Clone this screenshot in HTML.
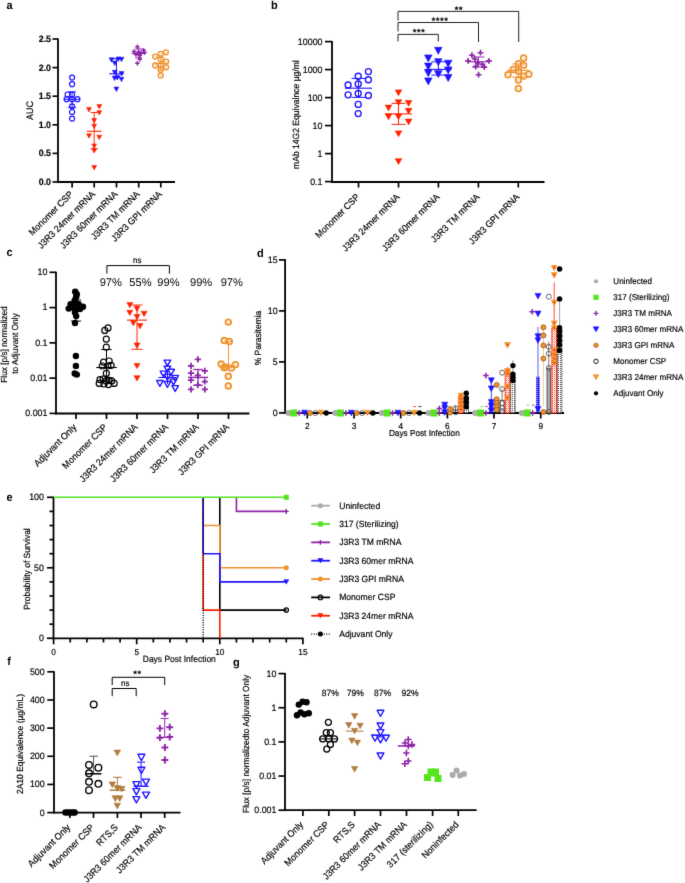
<!DOCTYPE html>
<html><head><meta charset="utf-8"><style>
html,body{margin:0;padding:0;background:#fff;}
svg{display:block;font-family:"Liberation Sans", sans-serif;will-change:transform;text-rendering:geometricPrecision;}
</style></head><body>
<svg width="685" height="883" viewBox="0 0 685 883">
<defs>
<filter id="soft" x="0" y="0" width="685" height="883" filterUnits="userSpaceOnUse" color-interpolation-filters="sRGB"><feConvolveMatrix order="3" kernelMatrix="0.00810 0.07380 0.00810 0.07380 0.67240 0.07380 0.00810 0.07380 0.00810" edgeMode="duplicate" preserveAlpha="false"/></filter>
<pattern id="redstripe" width="2" height="2" patternUnits="userSpaceOnUse"><rect width="2" height="2" fill="#fff"/><rect x="0" y="0" width="1" height="1" fill="#FF5A4A"/><rect x="1" y="1" width="1" height="1" fill="#FFB8B0"/></pattern>
<pattern id="blkdot" width="2" height="2" patternUnits="userSpaceOnUse"><rect width="2" height="2" fill="#fff"/><rect x="0" y="0" width="1" height="1" fill="#555"/></pattern>
<pattern id="bluedot" width="2" height="2" patternUnits="userSpaceOnUse"><rect width="2" height="2" fill="#1E14FF"/><rect x="1" y="1" width="1" height="1" fill="#aab"/></pattern>
</defs>
<g filter="url(#soft)">
<rect width="685" height="883" fill="#fff"/>
<text font-size="11.55" text-anchor="start" font-weight="bold" fill="#000" transform="translate(6.5 9.2) scale(0.95 1)">a</text>
<line x1="58" y1="38.4" x2="58" y2="182.8" stroke="#000" stroke-width="1.8" stroke-linecap="butt"/>
<line x1="57.2" y1="182" x2="175" y2="182" stroke="#000" stroke-width="1.8" stroke-linecap="butt"/>
<line x1="52.5" y1="182" x2="58" y2="182" stroke="#000" stroke-width="1.7" stroke-linecap="butt"/>
<text font-size="9.24" text-anchor="end" font-weight="bold" fill="#000" stroke="#000" stroke-width="0.18" transform="translate(51 185) scale(0.95 1)">0.0</text>
<line x1="52.5" y1="153.4" x2="58" y2="153.4" stroke="#000" stroke-width="1.7" stroke-linecap="butt"/>
<text font-size="9.24" text-anchor="end" font-weight="bold" fill="#000" stroke="#000" stroke-width="0.18" transform="translate(51 156.4) scale(0.95 1)">0.5</text>
<line x1="52.5" y1="124.8" x2="58" y2="124.8" stroke="#000" stroke-width="1.7" stroke-linecap="butt"/>
<text font-size="9.24" text-anchor="end" font-weight="bold" fill="#000" stroke="#000" stroke-width="0.18" transform="translate(51 127.8) scale(0.95 1)">1.0</text>
<line x1="52.5" y1="96.2" x2="58" y2="96.2" stroke="#000" stroke-width="1.7" stroke-linecap="butt"/>
<text font-size="9.24" text-anchor="end" font-weight="bold" fill="#000" stroke="#000" stroke-width="0.18" transform="translate(51 99.2) scale(0.95 1)">1.5</text>
<line x1="52.5" y1="67.6" x2="58" y2="67.6" stroke="#000" stroke-width="1.7" stroke-linecap="butt"/>
<text font-size="9.24" text-anchor="end" font-weight="bold" fill="#000" stroke="#000" stroke-width="0.18" transform="translate(51 70.6) scale(0.95 1)">2.0</text>
<line x1="52.5" y1="39" x2="58" y2="39" stroke="#000" stroke-width="1.7" stroke-linecap="butt"/>
<text font-size="9.24" text-anchor="end" font-weight="bold" fill="#000" stroke="#000" stroke-width="0.18" transform="translate(51 42) scale(0.95 1)">2.5</text>
<line x1="72.1" y1="182" x2="72.1" y2="187.5" stroke="#000" stroke-width="1.7" stroke-linecap="butt"/>
<line x1="94.2" y1="182" x2="94.2" y2="187.5" stroke="#000" stroke-width="1.7" stroke-linecap="butt"/>
<line x1="116.5" y1="182" x2="116.5" y2="187.5" stroke="#000" stroke-width="1.7" stroke-linecap="butt"/>
<line x1="138.7" y1="182" x2="138.7" y2="187.5" stroke="#000" stroke-width="1.7" stroke-linecap="butt"/>
<line x1="160.8" y1="182" x2="160.8" y2="187.5" stroke="#000" stroke-width="1.7" stroke-linecap="butt"/>
<text font-size="9.45" text-anchor="middle" fill="#000" stroke="#000" stroke-width="0.18" transform="translate(33 110.6) rotate(-90) scale(0.95 1)">AUC</text>
<text font-size="9.35" text-anchor="end" fill="#000" stroke="#000" stroke-width="0.18" transform="translate(73.7 194.8) rotate(-45) scale(0.95 1)">Monomer CSP</text>
<text font-size="9.35" text-anchor="end" fill="#000" stroke="#000" stroke-width="0.18" transform="translate(95.8 194.8) rotate(-45) scale(0.95 1)">J3R3 24mer mRNA</text>
<text font-size="9.35" text-anchor="end" fill="#000" stroke="#000" stroke-width="0.18" transform="translate(118.1 194.8) rotate(-45) scale(0.95 1)">J3R3 60mer mRNA</text>
<text font-size="9.35" text-anchor="end" fill="#000" stroke="#000" stroke-width="0.18" transform="translate(140.3 194.8) rotate(-45) scale(0.95 1)">J3R3 TM mRNA</text>
<text font-size="9.35" text-anchor="end" fill="#000" stroke="#000" stroke-width="0.18" transform="translate(162.4 194.8) rotate(-45) scale(0.95 1)">J3R3 GPI mRNA</text>
<circle cx="72.1" cy="77.6" r="2.5" fill="none" stroke="#1E14FF" stroke-width="1.2"/>
<circle cx="72.1" cy="84.2" r="2.5" fill="none" stroke="#1E14FF" stroke-width="1.2"/>
<circle cx="67.6" cy="94.5" r="2.5" fill="none" stroke="#1E14FF" stroke-width="1.2"/>
<circle cx="72.1" cy="94.5" r="2.5" fill="none" stroke="#1E14FF" stroke-width="1.2"/>
<circle cx="66.6" cy="99.2" r="2.5" fill="none" stroke="#1E14FF" stroke-width="1.2"/>
<circle cx="72.1" cy="99.2" r="2.5" fill="none" stroke="#1E14FF" stroke-width="1.2"/>
<circle cx="77.4" cy="99.2" r="2.5" fill="none" stroke="#1E14FF" stroke-width="1.2"/>
<circle cx="72.1" cy="106.3" r="2.5" fill="none" stroke="#1E14FF" stroke-width="1.2"/>
<circle cx="72.1" cy="112" r="2.5" fill="none" stroke="#1E14FF" stroke-width="1.2"/>
<circle cx="72.1" cy="118.6" r="2.5" fill="none" stroke="#1E14FF" stroke-width="1.2"/>
<line x1="64.1" y1="99.3" x2="80.1" y2="99.3" stroke="#1E14FF" stroke-width="1.1" stroke-linecap="butt"/>
<line x1="72.1" y1="91.8" x2="72.1" y2="107.4" stroke="#1E14FF" stroke-width="0.9900000000000001" stroke-linecap="butt"/>
<line x1="68.1" y1="91.8" x2="76.1" y2="91.8" stroke="#1E14FF" stroke-width="0.9900000000000001" stroke-linecap="butt"/>
<line x1="68.1" y1="107.4" x2="76.1" y2="107.4" stroke="#1E14FF" stroke-width="0.9900000000000001" stroke-linecap="butt"/>
<path d="M86.6,107.6L91.4,107.6L89,112Z" fill="#FF2200" stroke="#FF2200" stroke-width="0.6" stroke-linejoin="round"/>
<path d="M96.9,104.6L101.7,104.6L99.3,109Z" fill="#FF2200" stroke="#FF2200" stroke-width="0.6" stroke-linejoin="round"/>
<path d="M96.9,110.7L101.7,110.7L99.3,115.1Z" fill="#FF2200" stroke="#FF2200" stroke-width="0.6" stroke-linejoin="round"/>
<path d="M91.8,118.5L96.6,118.5L94.2,122.9Z" fill="#FF2200" stroke="#FF2200" stroke-width="0.6" stroke-linejoin="round"/>
<path d="M91.8,124.2L96.6,124.2L94.2,128.6Z" fill="#FF2200" stroke="#FF2200" stroke-width="0.6" stroke-linejoin="round"/>
<path d="M86.6,133.8L91.4,133.8L89,138.2Z" fill="#FF2200" stroke="#FF2200" stroke-width="0.6" stroke-linejoin="round"/>
<path d="M96.9,135.2L101.7,135.2L99.3,139.6Z" fill="#FF2200" stroke="#FF2200" stroke-width="0.6" stroke-linejoin="round"/>
<path d="M91.8,144L96.6,144L94.2,148.4Z" fill="#FF2200" stroke="#FF2200" stroke-width="0.6" stroke-linejoin="round"/>
<path d="M91.8,148.7L96.6,148.7L94.2,153.1Z" fill="#FF2200" stroke="#FF2200" stroke-width="0.6" stroke-linejoin="round"/>
<path d="M91.8,165.5L96.6,165.5L94.2,169.9Z" fill="#FF2200" stroke="#FF2200" stroke-width="0.6" stroke-linejoin="round"/>
<line x1="86.95" y1="131.3" x2="101.45" y2="131.3" stroke="#FF2200" stroke-width="1.1" stroke-linecap="butt"/>
<line x1="94.2" y1="112.5" x2="94.2" y2="148.7" stroke="#FF2200" stroke-width="0.9900000000000001" stroke-linecap="butt"/>
<line x1="90.7" y1="112.5" x2="97.7" y2="112.5" stroke="#FF2200" stroke-width="0.9900000000000001" stroke-linecap="butt"/>
<line x1="90.7" y1="148.7" x2="97.7" y2="148.7" stroke="#FF2200" stroke-width="0.9900000000000001" stroke-linecap="butt"/>
<path d="M109.1,57.8L113.9,57.8L111.5,62.2Z" fill="#1E14FF" stroke="#1E14FF" stroke-width="0.6" stroke-linejoin="round"/>
<path d="M112.4,61.1L117.2,61.1L114.8,65.5Z" fill="#1E14FF" stroke="#1E14FF" stroke-width="0.6" stroke-linejoin="round"/>
<path d="M116,57L120.8,57L118.4,61.4Z" fill="#1E14FF" stroke="#1E14FF" stroke-width="0.6" stroke-linejoin="round"/>
<path d="M119.1,57.3L123.9,57.3L121.5,61.7Z" fill="#1E14FF" stroke="#1E14FF" stroke-width="0.6" stroke-linejoin="round"/>
<path d="M112.4,70.3L117.2,70.3L114.8,74.7Z" fill="#1E14FF" stroke="#1E14FF" stroke-width="0.6" stroke-linejoin="round"/>
<path d="M119.1,71.6L123.9,71.6L121.5,76Z" fill="#1E14FF" stroke="#1E14FF" stroke-width="0.6" stroke-linejoin="round"/>
<path d="M112.2,76.2L117,76.2L114.6,80.6Z" fill="#1E14FF" stroke="#1E14FF" stroke-width="0.6" stroke-linejoin="round"/>
<path d="M115,75.6L119.8,75.6L117.4,80Z" fill="#1E14FF" stroke="#1E14FF" stroke-width="0.6" stroke-linejoin="round"/>
<path d="M119.1,77.2L123.9,77.2L121.5,81.6Z" fill="#1E14FF" stroke="#1E14FF" stroke-width="0.6" stroke-linejoin="round"/>
<path d="M114,87.1L118.8,87.1L116.4,91.5Z" fill="#1E14FF" stroke="#1E14FF" stroke-width="0.6" stroke-linejoin="round"/>
<line x1="109.25" y1="73.8" x2="123.75" y2="73.8" stroke="#1E14FF" stroke-width="1.1" stroke-linecap="butt"/>
<line x1="116.5" y1="58.7" x2="116.5" y2="77" stroke="#1E14FF" stroke-width="0.9900000000000001" stroke-linecap="butt"/>
<line x1="113" y1="58.7" x2="120" y2="58.7" stroke="#1E14FF" stroke-width="0.9900000000000001" stroke-linecap="butt"/>
<line x1="113" y1="77" x2="120" y2="77" stroke="#1E14FF" stroke-width="0.9900000000000001" stroke-linecap="butt"/>
<path d="M135.2,46.7H139.6M137.4,44.5V48.9" stroke="#8D24A8" stroke-width="1.5" fill="none"/>
<path d="M141.3,50.1H145.7M143.5,47.9V52.3" stroke="#8D24A8" stroke-width="1.5" fill="none"/>
<path d="M131.8,51.5H136.2M134,49.3V53.7" stroke="#8D24A8" stroke-width="1.5" fill="none"/>
<path d="M136.3,52H140.7M138.5,49.8V54.2" stroke="#8D24A8" stroke-width="1.5" fill="none"/>
<path d="M138.8,53H143.2M141,50.8V55.2" stroke="#8D24A8" stroke-width="1.5" fill="none"/>
<path d="M142.3,52.5H146.7M144.5,50.3V54.7" stroke="#8D24A8" stroke-width="1.5" fill="none"/>
<path d="M133.8,54.5H138.2M136,52.3V56.7" stroke="#8D24A8" stroke-width="1.5" fill="none"/>
<path d="M137.6,55.5H142M139.8,53.3V57.7" stroke="#8D24A8" stroke-width="1.5" fill="none"/>
<path d="M137.6,59.3H142M139.8,57.1V61.5" stroke="#8D24A8" stroke-width="1.5" fill="none"/>
<path d="M135.2,63.3H139.6M137.4,61.1V65.5" stroke="#8D24A8" stroke-width="1.5" fill="none"/>
<line x1="131.7" y1="53.5" x2="145.7" y2="53.5" stroke="#8D24A8" stroke-width="1.1" stroke-linecap="butt"/>
<line x1="138.7" y1="49" x2="138.7" y2="58" stroke="#8D24A8" stroke-width="0.9900000000000001" stroke-linecap="butt"/>
<line x1="135.2" y1="49" x2="142.2" y2="49" stroke="#8D24A8" stroke-width="0.9900000000000001" stroke-linecap="butt"/>
<line x1="135.2" y1="58" x2="142.2" y2="58" stroke="#8D24A8" stroke-width="0.9900000000000001" stroke-linecap="butt"/>
<circle cx="165.9" cy="52.3" r="2.45" fill="none" stroke="#F0922E" stroke-width="1.35"/>
<circle cx="165.9" cy="52.3" r="0.55" fill="#F0922E"/>
<circle cx="160.7" cy="53.8" r="2.45" fill="none" stroke="#F0922E" stroke-width="1.35"/>
<circle cx="160.7" cy="53.8" r="0.55" fill="#F0922E"/>
<circle cx="155.1" cy="56.6" r="2.45" fill="none" stroke="#F0922E" stroke-width="1.35"/>
<circle cx="155.1" cy="56.6" r="0.55" fill="#F0922E"/>
<circle cx="160.7" cy="59.6" r="2.45" fill="none" stroke="#F0922E" stroke-width="1.35"/>
<circle cx="160.7" cy="59.6" r="0.55" fill="#F0922E"/>
<circle cx="166.2" cy="61.5" r="2.45" fill="none" stroke="#F0922E" stroke-width="1.35"/>
<circle cx="166.2" cy="61.5" r="0.55" fill="#F0922E"/>
<circle cx="155.1" cy="65.4" r="2.45" fill="none" stroke="#F0922E" stroke-width="1.35"/>
<circle cx="155.1" cy="65.4" r="0.55" fill="#F0922E"/>
<circle cx="160.7" cy="65.1" r="2.45" fill="none" stroke="#F0922E" stroke-width="1.35"/>
<circle cx="160.7" cy="65.1" r="0.55" fill="#F0922E"/>
<circle cx="166.2" cy="67.3" r="2.45" fill="none" stroke="#F0922E" stroke-width="1.35"/>
<circle cx="166.2" cy="67.3" r="0.55" fill="#F0922E"/>
<circle cx="160.7" cy="69.7" r="2.45" fill="none" stroke="#F0922E" stroke-width="1.35"/>
<circle cx="160.7" cy="69.7" r="0.55" fill="#F0922E"/>
<circle cx="160.7" cy="75.4" r="2.45" fill="none" stroke="#F0922E" stroke-width="1.35"/>
<circle cx="160.7" cy="75.4" r="0.55" fill="#F0922E"/>
<line x1="153.8" y1="63.5" x2="167.8" y2="63.5" stroke="#F0922E" stroke-width="1.1" stroke-linecap="butt"/>
<line x1="160.8" y1="57" x2="160.8" y2="70" stroke="#F0922E" stroke-width="0.9900000000000001" stroke-linecap="butt"/>
<line x1="157.3" y1="57" x2="164.3" y2="57" stroke="#F0922E" stroke-width="0.9900000000000001" stroke-linecap="butt"/>
<line x1="157.3" y1="70" x2="164.3" y2="70" stroke="#F0922E" stroke-width="0.9900000000000001" stroke-linecap="butt"/>
<text font-size="11.55" text-anchor="start" font-weight="bold" fill="#000" transform="translate(271 9.2) scale(0.95 1)">b</text>
<line x1="332" y1="41" x2="332" y2="182.8" stroke="#000" stroke-width="1.8" stroke-linecap="butt"/>
<line x1="331.2" y1="182" x2="544.5" y2="182" stroke="#000" stroke-width="1.8" stroke-linecap="butt"/>
<line x1="325" y1="181.6" x2="332" y2="181.6" stroke="#000" stroke-width="1.7" stroke-linecap="butt"/>
<text font-size="9.35" text-anchor="end" fill="#000" stroke="#000" stroke-width="0.18" transform="translate(322.5 184.5) scale(0.95 1)">0.1</text>
<line x1="325" y1="153.6" x2="332" y2="153.6" stroke="#000" stroke-width="1.7" stroke-linecap="butt"/>
<text font-size="9.35" text-anchor="end" fill="#000" stroke="#000" stroke-width="0.18" transform="translate(322.5 156.5) scale(0.95 1)">1</text>
<line x1="325" y1="125.6" x2="332" y2="125.6" stroke="#000" stroke-width="1.7" stroke-linecap="butt"/>
<text font-size="9.35" text-anchor="end" fill="#000" stroke="#000" stroke-width="0.18" transform="translate(322.5 128.5) scale(0.95 1)">10</text>
<line x1="325" y1="97.6" x2="332" y2="97.6" stroke="#000" stroke-width="1.7" stroke-linecap="butt"/>
<text font-size="9.35" text-anchor="end" fill="#000" stroke="#000" stroke-width="0.18" transform="translate(322.5 100.5) scale(0.95 1)">100</text>
<line x1="325" y1="69.6" x2="332" y2="69.6" stroke="#000" stroke-width="1.7" stroke-linecap="butt"/>
<text font-size="9.35" text-anchor="end" fill="#000" stroke="#000" stroke-width="0.18" transform="translate(322.5 72.5) scale(0.95 1)">1000</text>
<line x1="325" y1="41.6" x2="332" y2="41.6" stroke="#000" stroke-width="1.7" stroke-linecap="butt"/>
<text font-size="9.35" text-anchor="end" fill="#000" stroke="#000" stroke-width="0.18" transform="translate(322.5 44.5) scale(0.95 1)">10000</text>
<line x1="358.5" y1="182" x2="358.5" y2="187.5" stroke="#000" stroke-width="1.7" stroke-linecap="butt"/>
<line x1="398.5" y1="182" x2="398.5" y2="187.5" stroke="#000" stroke-width="1.7" stroke-linecap="butt"/>
<line x1="438.4" y1="182" x2="438.4" y2="187.5" stroke="#000" stroke-width="1.7" stroke-linecap="butt"/>
<line x1="478.4" y1="182" x2="478.4" y2="187.5" stroke="#000" stroke-width="1.7" stroke-linecap="butt"/>
<line x1="518.3" y1="182" x2="518.3" y2="187.5" stroke="#000" stroke-width="1.7" stroke-linecap="butt"/>
<text font-size="9.03" text-anchor="middle" fill="#000" stroke="#000" stroke-width="0.18" transform="translate(298.5 114.6) rotate(-90) scale(0.95 1)">mAb 14G2 Equivalnce µg/ml</text>
<text font-size="9.35" text-anchor="end" fill="#000" stroke="#000" stroke-width="0.18" transform="translate(360.2 197.5) rotate(-45) scale(0.95 1)">Monomer CSP</text>
<text font-size="9.35" text-anchor="end" fill="#000" stroke="#000" stroke-width="0.18" transform="translate(400.2 197.5) rotate(-45) scale(0.95 1)">J3R3 24mer mRNA</text>
<text font-size="9.35" text-anchor="end" fill="#000" stroke="#000" stroke-width="0.18" transform="translate(440.1 197.5) rotate(-45) scale(0.95 1)">J3R3 60mer mRNA</text>
<text font-size="9.35" text-anchor="end" fill="#000" stroke="#000" stroke-width="0.18" transform="translate(480.1 197.5) rotate(-45) scale(0.95 1)">J3R3 TM mRNA</text>
<text font-size="9.35" text-anchor="end" fill="#000" stroke="#000" stroke-width="0.18" transform="translate(520 197.5) rotate(-45) scale(0.95 1)">J3R3 GPI mRNA</text>
<polyline points="398,20.5 398,11.4 518.7,11.4 518.7,42" fill="none" stroke="#222" stroke-width="1"/>
<polyline points="398,31.5 398,22.5 478.5,22.5 478.5,42" fill="none" stroke="#222" stroke-width="1"/>
<polyline points="398,41.5 398,34.4 438.3,34.4 438.3,41.5" fill="none" stroke="#222" stroke-width="1"/>
<polygon points="456.5,6.35 457.03,7.62 458.4,7.73 457.36,8.63 457.68,9.97 456.5,9.25 455.32,9.97 455.64,8.63 454.6,7.73 455.97,7.62" fill="#111" stroke="#111" stroke-width="0.35" stroke-linejoin="round"/>
<polygon points="460.7,6.35 461.23,7.62 462.6,7.73 461.56,8.63 461.88,9.97 460.7,9.25 459.52,9.97 459.84,8.63 458.8,7.73 460.17,7.62" fill="#111" stroke="#111" stroke-width="0.35" stroke-linejoin="round"/>
<polygon points="433.5,17.25 434.03,18.52 435.4,18.63 434.36,19.53 434.68,20.87 433.5,20.15 432.32,20.87 432.64,19.53 431.6,18.63 432.97,18.52" fill="#111" stroke="#111" stroke-width="0.35" stroke-linejoin="round"/>
<polygon points="437.7,17.25 438.23,18.52 439.6,18.63 438.56,19.53 438.88,20.87 437.7,20.15 436.52,20.87 436.84,19.53 435.8,18.63 437.17,18.52" fill="#111" stroke="#111" stroke-width="0.35" stroke-linejoin="round"/>
<polygon points="441.9,17.25 442.43,18.52 443.8,18.63 442.76,19.53 443.08,20.87 441.9,20.15 440.72,20.87 441.04,19.53 440,18.63 441.37,18.52" fill="#111" stroke="#111" stroke-width="0.35" stroke-linejoin="round"/>
<polygon points="446.1,17.25 446.63,18.52 448,18.63 446.96,19.53 447.28,20.87 446.1,20.15 444.92,20.87 445.24,19.53 444.2,18.63 445.57,18.52" fill="#111" stroke="#111" stroke-width="0.35" stroke-linejoin="round"/>
<polygon points="414.6,28.65 415.13,29.92 416.5,30.03 415.46,30.93 415.78,32.27 414.6,31.55 413.42,32.27 413.74,30.93 412.7,30.03 414.07,29.92" fill="#111" stroke="#111" stroke-width="0.35" stroke-linejoin="round"/>
<polygon points="418.8,28.65 419.33,29.92 420.7,30.03 419.66,30.93 419.98,32.27 418.8,31.55 417.62,32.27 417.94,30.93 416.9,30.03 418.27,29.92" fill="#111" stroke="#111" stroke-width="0.35" stroke-linejoin="round"/>
<polygon points="423,28.65 423.53,29.92 424.9,30.03 423.86,30.93 424.18,32.27 423,31.55 421.82,32.27 422.14,30.93 421.1,30.03 422.47,29.92" fill="#111" stroke="#111" stroke-width="0.35" stroke-linejoin="round"/>
<circle cx="368.4" cy="71.6" r="3.0" fill="none" stroke="#1E14FF" stroke-width="1.35"/>
<circle cx="358.2" cy="76.2" r="3.0" fill="none" stroke="#1E14FF" stroke-width="1.35"/>
<circle cx="368.4" cy="79.7" r="3.0" fill="none" stroke="#1E14FF" stroke-width="1.35"/>
<circle cx="348.1" cy="85" r="3.0" fill="none" stroke="#1E14FF" stroke-width="1.35"/>
<circle cx="358.2" cy="84" r="3.0" fill="none" stroke="#1E14FF" stroke-width="1.35"/>
<circle cx="358.2" cy="93.5" r="3.0" fill="none" stroke="#1E14FF" stroke-width="1.35"/>
<circle cx="348.1" cy="94.8" r="3.0" fill="none" stroke="#1E14FF" stroke-width="1.35"/>
<circle cx="368.4" cy="95.5" r="3.0" fill="none" stroke="#1E14FF" stroke-width="1.35"/>
<circle cx="358.2" cy="104.4" r="3.0" fill="none" stroke="#1E14FF" stroke-width="1.35"/>
<circle cx="358.2" cy="113.6" r="3.0" fill="none" stroke="#1E14FF" stroke-width="1.35"/>
<line x1="345" y1="88.2" x2="372" y2="88.2" stroke="#1E14FF" stroke-width="1.1" stroke-linecap="butt"/>
<line x1="358.5" y1="78.4" x2="358.5" y2="97.4" stroke="#1E14FF" stroke-width="0.9900000000000001" stroke-linecap="butt"/>
<line x1="351.5" y1="78.4" x2="365.5" y2="78.4" stroke="#1E14FF" stroke-width="0.9900000000000001" stroke-linecap="butt"/>
<line x1="351.5" y1="97.4" x2="365.5" y2="97.4" stroke="#1E14FF" stroke-width="0.9900000000000001" stroke-linecap="butt"/>
<path d="M395.2,89.9L401.8,89.9L398.5,95.7Z" fill="#FF2200" stroke="#FF2200" stroke-width="0.6" stroke-linejoin="round"/>
<path d="M395.2,99.8L401.8,99.8L398.5,105.6Z" fill="#FF2200" stroke="#FF2200" stroke-width="0.6" stroke-linejoin="round"/>
<path d="M405.3,100.5L411.9,100.5L408.6,106.3Z" fill="#FF2200" stroke="#FF2200" stroke-width="0.6" stroke-linejoin="round"/>
<path d="M385.2,105.1L391.8,105.1L388.5,110.9Z" fill="#FF2200" stroke="#FF2200" stroke-width="0.6" stroke-linejoin="round"/>
<path d="M405.3,108.3L411.9,108.3L408.6,114.1Z" fill="#FF2200" stroke="#FF2200" stroke-width="0.6" stroke-linejoin="round"/>
<path d="M385.2,113.9L391.8,113.9L388.5,119.7Z" fill="#FF2200" stroke="#FF2200" stroke-width="0.6" stroke-linejoin="round"/>
<path d="M395.2,113.9L401.8,113.9L398.5,119.7Z" fill="#FF2200" stroke="#FF2200" stroke-width="0.6" stroke-linejoin="round"/>
<path d="M405.3,119.1L411.9,119.1L408.6,124.9Z" fill="#FF2200" stroke="#FF2200" stroke-width="0.6" stroke-linejoin="round"/>
<path d="M395.2,130.9L401.8,130.9L398.5,136.7Z" fill="#FF2200" stroke="#FF2200" stroke-width="0.6" stroke-linejoin="round"/>
<path d="M395.2,158.7L401.8,158.7L398.5,164.5Z" fill="#FF2200" stroke="#FF2200" stroke-width="0.6" stroke-linejoin="round"/>
<line x1="385" y1="113.9" x2="412" y2="113.9" stroke="#FF2200" stroke-width="1.1" stroke-linecap="butt"/>
<line x1="398.5" y1="103.4" x2="398.5" y2="124.4" stroke="#FF2200" stroke-width="0.9900000000000001" stroke-linecap="butt"/>
<line x1="391.5" y1="103.4" x2="405.5" y2="103.4" stroke="#FF2200" stroke-width="0.9900000000000001" stroke-linecap="butt"/>
<line x1="391.5" y1="124.4" x2="405.5" y2="124.4" stroke="#FF2200" stroke-width="0.9900000000000001" stroke-linecap="butt"/>
<path d="M434.5,47.3L442.1,47.3L438.3,54.3Z" fill="#1E14FF" stroke="#1E14FF" stroke-width="0.6" stroke-linejoin="round"/>
<path d="M424.5,54.9L432.1,54.9L428.3,61.9Z" fill="#1E14FF" stroke="#1E14FF" stroke-width="0.6" stroke-linejoin="round"/>
<path d="M434.5,58.7L442.1,58.7L438.3,65.7Z" fill="#1E14FF" stroke="#1E14FF" stroke-width="0.6" stroke-linejoin="round"/>
<path d="M444.4,60.2L452,60.2L448.2,67.2Z" fill="#1E14FF" stroke="#1E14FF" stroke-width="0.6" stroke-linejoin="round"/>
<path d="M424.5,63.1L432.1,63.1L428.3,70.1Z" fill="#1E14FF" stroke="#1E14FF" stroke-width="0.6" stroke-linejoin="round"/>
<path d="M444.4,66.9L452,66.9L448.2,73.9Z" fill="#1E14FF" stroke="#1E14FF" stroke-width="0.6" stroke-linejoin="round"/>
<path d="M424.5,69.7L432.1,69.7L428.3,76.7Z" fill="#1E14FF" stroke="#1E14FF" stroke-width="0.6" stroke-linejoin="round"/>
<path d="M434.5,70.7L442.1,70.7L438.3,77.7Z" fill="#1E14FF" stroke="#1E14FF" stroke-width="0.6" stroke-linejoin="round"/>
<path d="M444.4,74.5L452,74.5L448.2,81.5Z" fill="#1E14FF" stroke="#1E14FF" stroke-width="0.6" stroke-linejoin="round"/>
<path d="M424.5,77.9L432.1,77.9L428.3,84.9Z" fill="#1E14FF" stroke="#1E14FF" stroke-width="0.6" stroke-linejoin="round"/>
<line x1="424.9" y1="69.4" x2="451.9" y2="69.4" stroke="#1E14FF" stroke-width="1.1" stroke-linecap="butt"/>
<line x1="438.4" y1="61.8" x2="438.4" y2="75.1" stroke="#1E14FF" stroke-width="0.9900000000000001" stroke-linecap="butt"/>
<line x1="431.4" y1="61.8" x2="445.4" y2="61.8" stroke="#1E14FF" stroke-width="0.9900000000000001" stroke-linecap="butt"/>
<line x1="431.4" y1="75.1" x2="445.4" y2="75.1" stroke="#1E14FF" stroke-width="0.9900000000000001" stroke-linecap="butt"/>
<path d="M477.6,52.7H483.4M480.5,49.8V55.6" stroke="#8D24A8" stroke-width="1.65" fill="none"/>
<path d="M469,55.2H474.8M471.9,52.3V58.1" stroke="#8D24A8" stroke-width="1.65" fill="none"/>
<path d="M465.2,60.9H471M468.1,58V63.8" stroke="#8D24A8" stroke-width="1.65" fill="none"/>
<path d="M471.9,59H477.7M474.8,56.1V61.9" stroke="#8D24A8" stroke-width="1.65" fill="none"/>
<path d="M486.1,60.9H491.9M489,58V63.8" stroke="#8D24A8" stroke-width="1.65" fill="none"/>
<path d="M474.7,62.8H480.5M477.6,59.9V65.7" stroke="#8D24A8" stroke-width="1.65" fill="none"/>
<path d="M479.5,64.3H485.3M482.4,61.4V67.2" stroke="#8D24A8" stroke-width="1.65" fill="none"/>
<path d="M472.8,66.6H478.6M475.7,63.7V69.5" stroke="#8D24A8" stroke-width="1.65" fill="none"/>
<path d="M481.4,67.1H487.2M484.3,64.2V70" stroke="#8D24A8" stroke-width="1.65" fill="none"/>
<path d="M475.7,74.7H481.5M478.6,71.8V77.6" stroke="#8D24A8" stroke-width="1.65" fill="none"/>
<line x1="467.4" y1="61.8" x2="489.4" y2="61.8" stroke="#8D24A8" stroke-width="1.1" stroke-linecap="butt"/>
<line x1="478.4" y1="57" x2="478.4" y2="67" stroke="#8D24A8" stroke-width="0.9900000000000001" stroke-linecap="butt"/>
<line x1="472.4" y1="57" x2="484.4" y2="57" stroke="#8D24A8" stroke-width="0.9900000000000001" stroke-linecap="butt"/>
<line x1="472.4" y1="67" x2="484.4" y2="67" stroke="#8D24A8" stroke-width="0.9900000000000001" stroke-linecap="butt"/>
<circle cx="523.6" cy="58" r="2.85" fill="none" stroke="#F0922E" stroke-width="1.75"/>
<circle cx="523.6" cy="58" r="0.55" fill="#F0922E"/>
<circle cx="518.4" cy="63.7" r="2.85" fill="none" stroke="#F0922E" stroke-width="1.75"/>
<circle cx="518.4" cy="63.7" r="0.55" fill="#F0922E"/>
<circle cx="523.6" cy="65.2" r="2.85" fill="none" stroke="#F0922E" stroke-width="1.75"/>
<circle cx="523.6" cy="65.2" r="0.55" fill="#F0922E"/>
<circle cx="513.3" cy="69.4" r="2.85" fill="none" stroke="#F0922E" stroke-width="1.75"/>
<circle cx="513.3" cy="69.4" r="0.55" fill="#F0922E"/>
<circle cx="518.4" cy="71.3" r="2.85" fill="none" stroke="#F0922E" stroke-width="1.75"/>
<circle cx="518.4" cy="71.3" r="0.55" fill="#F0922E"/>
<circle cx="508" cy="74.7" r="2.85" fill="none" stroke="#F0922E" stroke-width="1.75"/>
<circle cx="508" cy="74.7" r="0.55" fill="#F0922E"/>
<circle cx="523.6" cy="76.1" r="2.85" fill="none" stroke="#F0922E" stroke-width="1.75"/>
<circle cx="523.6" cy="76.1" r="0.55" fill="#F0922E"/>
<circle cx="528.9" cy="74.2" r="2.85" fill="none" stroke="#F0922E" stroke-width="1.75"/>
<circle cx="528.9" cy="74.2" r="0.55" fill="#F0922E"/>
<circle cx="518.4" cy="79.9" r="2.85" fill="none" stroke="#F0922E" stroke-width="1.75"/>
<circle cx="518.4" cy="79.9" r="0.55" fill="#F0922E"/>
<circle cx="518.4" cy="88.4" r="2.85" fill="none" stroke="#F0922E" stroke-width="1.75"/>
<circle cx="518.4" cy="88.4" r="0.55" fill="#F0922E"/>
<line x1="507.3" y1="70.4" x2="529.3" y2="70.4" stroke="#F0922E" stroke-width="1.1" stroke-linecap="butt"/>
<line x1="518.3" y1="64" x2="518.3" y2="77" stroke="#F0922E" stroke-width="0.9900000000000001" stroke-linecap="butt"/>
<line x1="512.3" y1="64" x2="524.3" y2="64" stroke="#F0922E" stroke-width="0.9900000000000001" stroke-linecap="butt"/>
<line x1="512.3" y1="77" x2="524.3" y2="77" stroke="#F0922E" stroke-width="0.9900000000000001" stroke-linecap="butt"/>
<text font-size="11.55" text-anchor="start" font-weight="bold" fill="#000" transform="translate(6.5 256.2) scale(0.95 1)">c</text>
<line x1="56" y1="271.72" x2="56" y2="414.3" stroke="#000" stroke-width="1.8" stroke-linecap="butt"/>
<line x1="55.2" y1="413.5" x2="249.4" y2="413.5" stroke="#000" stroke-width="1.8" stroke-linecap="butt"/>
<line x1="49.5" y1="413.4" x2="56" y2="413.4" stroke="#000" stroke-width="1.7" stroke-linecap="butt"/>
<text font-size="9.35" text-anchor="end" fill="#000" stroke="#000" stroke-width="0.18" transform="translate(47.5 416.3) scale(0.95 1)">0.001</text>
<line x1="49.5" y1="378.13" x2="56" y2="378.13" stroke="#000" stroke-width="1.7" stroke-linecap="butt"/>
<text font-size="9.35" text-anchor="end" fill="#000" stroke="#000" stroke-width="0.18" transform="translate(47.5 381.03) scale(0.95 1)">0.01</text>
<line x1="49.5" y1="342.86" x2="56" y2="342.86" stroke="#000" stroke-width="1.7" stroke-linecap="butt"/>
<text font-size="9.35" text-anchor="end" fill="#000" stroke="#000" stroke-width="0.18" transform="translate(47.5 345.76) scale(0.95 1)">0.1</text>
<line x1="49.5" y1="307.59" x2="56" y2="307.59" stroke="#000" stroke-width="1.7" stroke-linecap="butt"/>
<text font-size="9.35" text-anchor="end" fill="#000" stroke="#000" stroke-width="0.18" transform="translate(47.5 310.49) scale(0.95 1)">1</text>
<line x1="49.5" y1="272.32" x2="56" y2="272.32" stroke="#000" stroke-width="1.7" stroke-linecap="butt"/>
<text font-size="9.35" text-anchor="end" fill="#000" stroke="#000" stroke-width="0.18" transform="translate(47.5 275.22) scale(0.95 1)">10</text>
<line x1="76" y1="413.5" x2="76" y2="419" stroke="#000" stroke-width="1.7" stroke-linecap="butt"/>
<line x1="106.5" y1="413.5" x2="106.5" y2="419" stroke="#000" stroke-width="1.7" stroke-linecap="butt"/>
<line x1="137" y1="413.5" x2="137" y2="419" stroke="#000" stroke-width="1.7" stroke-linecap="butt"/>
<line x1="167.5" y1="413.5" x2="167.5" y2="419" stroke="#000" stroke-width="1.7" stroke-linecap="butt"/>
<line x1="198" y1="413.5" x2="198" y2="419" stroke="#000" stroke-width="1.7" stroke-linecap="butt"/>
<line x1="228.5" y1="413.5" x2="228.5" y2="419" stroke="#000" stroke-width="1.7" stroke-linecap="butt"/>
<text font-size="8.72" text-anchor="middle" fill="#000" stroke="#000" stroke-width="0.18" transform="translate(7.4 344.5) rotate(-90) scale(0.95 1)">Flux [p/s] normalized</text>
<text font-size="8.72" text-anchor="middle" fill="#000" stroke="#000" stroke-width="0.18" transform="translate(18.2 343.6) rotate(-90) scale(0.95 1)">to Adjuvant Only</text>
<text font-size="9.45" text-anchor="end" fill="#000" stroke="#000" stroke-width="0.18" transform="translate(77.2 427.8) rotate(-45) scale(0.95 1)">Adjuvant Only</text>
<text font-size="9.45" text-anchor="end" fill="#000" stroke="#000" stroke-width="0.18" transform="translate(107.7 427.8) rotate(-45) scale(0.95 1)">Monomer CSP</text>
<text font-size="9.45" text-anchor="end" fill="#000" stroke="#000" stroke-width="0.18" transform="translate(138.2 427.8) rotate(-45) scale(0.95 1)">J3R3 24mer mRNA</text>
<text font-size="9.45" text-anchor="end" fill="#000" stroke="#000" stroke-width="0.18" transform="translate(168.7 427.8) rotate(-45) scale(0.95 1)">J3R3 60mer mRNA</text>
<text font-size="9.45" text-anchor="end" fill="#000" stroke="#000" stroke-width="0.18" transform="translate(199.2 427.8) rotate(-45) scale(0.95 1)">J3R3 TM mRNA</text>
<text font-size="9.45" text-anchor="end" fill="#000" stroke="#000" stroke-width="0.18" transform="translate(229.7 427.8) rotate(-45) scale(0.95 1)">J3R3 GPI mRNA</text>
<polyline points="106.9,273.6 106.9,265.6 169.4,265.6 169.4,273.6" fill="none" stroke="#000" stroke-width="1"/>
<text font-size="8.4" text-anchor="middle" fill="#000" stroke="#000" stroke-width="0.18" transform="translate(137.2 262.8) scale(0.95 1)">ns</text>
<text font-size="11.13" text-anchor="middle" fill="#000" transform="translate(110.8 285.7)">97%</text>
<text font-size="11.13" text-anchor="middle" fill="#000" transform="translate(140.4 285.7)">55%</text>
<text font-size="11.13" text-anchor="middle" fill="#000" transform="translate(168.4 285.7)">99%</text>
<text font-size="11.13" text-anchor="middle" fill="#000" transform="translate(201.1 285.7)">99%</text>
<text font-size="11.13" text-anchor="middle" fill="#000" transform="translate(231.8 285.7)">97%</text>
<circle cx="75.2" cy="291.8" r="3.2" fill="#000"/>
<circle cx="76.8" cy="294.3" r="3.2" fill="#000"/>
<circle cx="76.2" cy="296.8" r="3.2" fill="#000"/>
<circle cx="75" cy="299.9" r="3.2" fill="#000"/>
<circle cx="70.6" cy="304.3" r="3.2" fill="#000"/>
<circle cx="73.7" cy="303.7" r="3.2" fill="#000"/>
<circle cx="78.7" cy="304.3" r="3.2" fill="#000"/>
<circle cx="83" cy="306.8" r="3.2" fill="#000"/>
<circle cx="68.7" cy="308.6" r="3.2" fill="#000"/>
<circle cx="73.7" cy="308" r="3.2" fill="#000"/>
<circle cx="77.4" cy="308.6" r="3.2" fill="#000"/>
<circle cx="80" cy="309" r="3.2" fill="#000"/>
<circle cx="75" cy="312.4" r="3.2" fill="#000"/>
<circle cx="76.2" cy="316.1" r="3.2" fill="#000"/>
<circle cx="75" cy="323" r="3.2" fill="#000"/>
<circle cx="75.9" cy="356" r="3.2" fill="#000"/>
<circle cx="75.9" cy="365.9" r="3.2" fill="#000"/>
<circle cx="74.7" cy="373.4" r="3.2" fill="#000"/>
<circle cx="76.8" cy="374.6" r="3.2" fill="#000"/>
<line x1="67" y1="307.5" x2="85" y2="307.5" stroke="#000" stroke-width="1.1" stroke-linecap="butt"/>
<line x1="76" y1="321.1" x2="76" y2="300" stroke="#000" stroke-width="0.9900000000000001" stroke-linecap="butt"/>
<line x1="71" y1="321.1" x2="81" y2="321.1" stroke="#000" stroke-width="0.9900000000000001" stroke-linecap="butt"/>
<line x1="71" y1="300" x2="81" y2="300" stroke="#000" stroke-width="0.9900000000000001" stroke-linecap="butt"/>
<circle cx="108" cy="327.9" r="3" fill="none" stroke="#000" stroke-width="1.2"/>
<circle cx="104.8" cy="330.4" r="3" fill="none" stroke="#000" stroke-width="1.2"/>
<circle cx="106.3" cy="339.2" r="3" fill="none" stroke="#000" stroke-width="1.2"/>
<circle cx="106.3" cy="347.2" r="3" fill="none" stroke="#000" stroke-width="1.2"/>
<circle cx="103.6" cy="362.2" r="3" fill="none" stroke="#000" stroke-width="1.2"/>
<circle cx="109.2" cy="361" r="3" fill="none" stroke="#000" stroke-width="1.2"/>
<circle cx="102.3" cy="366" r="3" fill="none" stroke="#000" stroke-width="1.2"/>
<circle cx="107.9" cy="366" r="3" fill="none" stroke="#000" stroke-width="1.2"/>
<circle cx="111.1" cy="365.3" r="3" fill="none" stroke="#000" stroke-width="1.2"/>
<circle cx="106.3" cy="373.4" r="3" fill="none" stroke="#000" stroke-width="1.2"/>
<circle cx="99.9" cy="379.6" r="3" fill="none" stroke="#000" stroke-width="1.2"/>
<circle cx="103" cy="379" r="3" fill="none" stroke="#000" stroke-width="1.2"/>
<circle cx="106.1" cy="380.9" r="3" fill="none" stroke="#000" stroke-width="1.2"/>
<circle cx="109.2" cy="380.3" r="3" fill="none" stroke="#000" stroke-width="1.2"/>
<circle cx="111.7" cy="380.9" r="3" fill="none" stroke="#000" stroke-width="1.2"/>
<circle cx="114.2" cy="383.4" r="3" fill="none" stroke="#000" stroke-width="1.2"/>
<circle cx="99.2" cy="383.4" r="3" fill="none" stroke="#000" stroke-width="1.2"/>
<circle cx="108.6" cy="384.6" r="3" fill="none" stroke="#000" stroke-width="1.2"/>
<circle cx="104" cy="384" r="3" fill="none" stroke="#000" stroke-width="1.2"/>
<line x1="96.2" y1="367.5" x2="116.8" y2="367.5" stroke="#000" stroke-width="1.1" stroke-linecap="butt"/>
<line x1="106.5" y1="349.5" x2="106.5" y2="380" stroke="#000" stroke-width="0.9900000000000001" stroke-linecap="butt"/>
<line x1="101.2" y1="349.5" x2="111.8" y2="349.5" stroke="#000" stroke-width="0.9900000000000001" stroke-linecap="butt"/>
<line x1="101.2" y1="380" x2="111.8" y2="380" stroke="#000" stroke-width="0.9900000000000001" stroke-linecap="butt"/>
<path d="M126.8,302.6L132.8,302.6L129.8,307.8Z" fill="#FF2200" stroke="#FF2200" stroke-width="0.6" stroke-linejoin="round"/>
<path d="M134,306.2L140,306.2L137,311.4Z" fill="#FF2200" stroke="#FF2200" stroke-width="0.6" stroke-linejoin="round"/>
<path d="M126.8,310.3L132.8,310.3L129.8,315.5Z" fill="#FF2200" stroke="#FF2200" stroke-width="0.6" stroke-linejoin="round"/>
<path d="M141.1,311.3L147.1,311.3L144.1,316.5Z" fill="#FF2200" stroke="#FF2200" stroke-width="0.6" stroke-linejoin="round"/>
<path d="M134,314.4L140,314.4L137,319.6Z" fill="#FF2200" stroke="#FF2200" stroke-width="0.6" stroke-linejoin="round"/>
<path d="M130.3,320.5L136.3,320.5L133.3,325.7Z" fill="#FF2200" stroke="#FF2200" stroke-width="0.6" stroke-linejoin="round"/>
<path d="M137,323.6L143,323.6L140,328.8Z" fill="#FF2200" stroke="#FF2200" stroke-width="0.6" stroke-linejoin="round"/>
<path d="M134,343L140,343L137,348.2Z" fill="#FF2200" stroke="#FF2200" stroke-width="0.6" stroke-linejoin="round"/>
<path d="M134,363.4L140,363.4L137,368.6Z" fill="#FF2200" stroke="#FF2200" stroke-width="0.6" stroke-linejoin="round"/>
<path d="M134,375.7L140,375.7L137,380.9Z" fill="#FF2200" stroke="#FF2200" stroke-width="0.6" stroke-linejoin="round"/>
<line x1="127" y1="320.1" x2="147" y2="320.1" stroke="#FF2200" stroke-width="1.1" stroke-linecap="butt"/>
<line x1="137" y1="349.3" x2="137" y2="305" stroke="#FF2200" stroke-width="0.9900000000000001" stroke-linecap="butt"/>
<line x1="131.5" y1="349.3" x2="142.5" y2="349.3" stroke="#FF2200" stroke-width="0.9900000000000001" stroke-linecap="butt"/>
<line x1="131.5" y1="305" x2="142.5" y2="305" stroke="#FF2200" stroke-width="0.9900000000000001" stroke-linecap="butt"/>
<path d="M164.1,360.1L170.7,360.1L167.4,365.9Z" fill="none" stroke="#1E14FF" stroke-width="1.4" stroke-linejoin="round"/>
<path d="M164.1,366.2L170.7,366.2L167.4,372Z" fill="none" stroke="#1E14FF" stroke-width="1.4" stroke-linejoin="round"/>
<path d="M167.8,369.3L174.4,369.3L171.1,375.1Z" fill="none" stroke="#1E14FF" stroke-width="1.4" stroke-linejoin="round"/>
<path d="M160.2,371.1L166.8,371.1L163.5,376.9Z" fill="none" stroke="#1E14FF" stroke-width="1.4" stroke-linejoin="round"/>
<path d="M164.1,374.4L170.7,374.4L167.4,380.2Z" fill="none" stroke="#1E14FF" stroke-width="1.4" stroke-linejoin="round"/>
<path d="M171.9,375.4L178.5,375.4L175.2,381.2Z" fill="none" stroke="#1E14FF" stroke-width="1.4" stroke-linejoin="round"/>
<path d="M156.6,380.5L163.2,380.5L159.9,386.3Z" fill="none" stroke="#1E14FF" stroke-width="1.4" stroke-linejoin="round"/>
<path d="M164.1,381.5L170.7,381.5L167.4,387.3Z" fill="none" stroke="#1E14FF" stroke-width="1.4" stroke-linejoin="round"/>
<path d="M170.2,379.1L176.8,379.1L173.5,384.9Z" fill="none" stroke="#1E14FF" stroke-width="1.4" stroke-linejoin="round"/>
<path d="M171.9,385.6L178.5,385.6L175.2,391.4Z" fill="none" stroke="#1E14FF" stroke-width="1.4" stroke-linejoin="round"/>
<line x1="158.5" y1="377.5" x2="176.5" y2="377.5" stroke="#1E14FF" stroke-width="1.1" stroke-linecap="butt"/>
<line x1="167.5" y1="369" x2="167.5" y2="384" stroke="#1E14FF" stroke-width="0.9900000000000001" stroke-linecap="butt"/>
<path d="M194.8,359.3H201M197.9,356.2V362.4" stroke="#8D24A8" stroke-width="1.75" fill="none"/>
<path d="M187.9,365.9H194.1M191,362.8V369" stroke="#8D24A8" stroke-width="1.75" fill="none"/>
<path d="M187.9,373.1H194.1M191,370V376.2" stroke="#8D24A8" stroke-width="1.75" fill="none"/>
<path d="M201.7,370.9H207.9M204.8,367.8V374" stroke="#8D24A8" stroke-width="1.75" fill="none"/>
<path d="M194.7,375.4H200.9M197.8,372.3V378.5" stroke="#8D24A8" stroke-width="1.75" fill="none"/>
<path d="M187.9,380.1H194.1M191,377V383.2" stroke="#8D24A8" stroke-width="1.75" fill="none"/>
<path d="M201.7,381.5H207.9M204.8,378.4V384.6" stroke="#8D24A8" stroke-width="1.75" fill="none"/>
<path d="M194.7,385.1H200.9M197.8,382V388.2" stroke="#8D24A8" stroke-width="1.75" fill="none"/>
<path d="M187.9,389.4H194.1M191,386.3V392.5" stroke="#8D24A8" stroke-width="1.75" fill="none"/>
<path d="M201.7,389.4H207.9M204.8,386.3V392.5" stroke="#8D24A8" stroke-width="1.75" fill="none"/>
<line x1="188" y1="377.4" x2="208" y2="377.4" stroke="#8D24A8" stroke-width="1.4" stroke-linecap="butt"/>
<line x1="198" y1="385.3" x2="198" y2="369.5" stroke="#8D24A8" stroke-width="1.26" stroke-linecap="butt"/>
<line x1="193.2" y1="385.3" x2="202.8" y2="385.3" stroke="#8D24A8" stroke-width="1.26" stroke-linecap="butt"/>
<line x1="193.2" y1="369.5" x2="202.8" y2="369.5" stroke="#8D24A8" stroke-width="1.26" stroke-linecap="butt"/>
<circle cx="228.3" cy="322.1" r="2.8" fill="none" stroke="#F0922E" stroke-width="1.85"/>
<circle cx="228.3" cy="322.1" r="0.55" fill="#F0922E"/>
<circle cx="224.2" cy="340.5" r="2.8" fill="none" stroke="#F0922E" stroke-width="1.85"/>
<circle cx="224.2" cy="340.5" r="0.55" fill="#F0922E"/>
<circle cx="229.3" cy="341.5" r="2.8" fill="none" stroke="#F0922E" stroke-width="1.85"/>
<circle cx="229.3" cy="341.5" r="0.55" fill="#F0922E"/>
<circle cx="221.2" cy="364" r="2.8" fill="none" stroke="#F0922E" stroke-width="1.85"/>
<circle cx="221.2" cy="364" r="0.55" fill="#F0922E"/>
<circle cx="235.5" cy="364.6" r="2.8" fill="none" stroke="#F0922E" stroke-width="1.85"/>
<circle cx="235.5" cy="364.6" r="0.55" fill="#F0922E"/>
<circle cx="226.3" cy="367.1" r="2.8" fill="none" stroke="#F0922E" stroke-width="1.85"/>
<circle cx="226.3" cy="367.1" r="0.55" fill="#F0922E"/>
<circle cx="231.4" cy="368.1" r="2.8" fill="none" stroke="#F0922E" stroke-width="1.85"/>
<circle cx="231.4" cy="368.1" r="0.55" fill="#F0922E"/>
<circle cx="224.2" cy="367.8" r="2.8" fill="none" stroke="#F0922E" stroke-width="1.85"/>
<circle cx="224.2" cy="367.8" r="0.55" fill="#F0922E"/>
<circle cx="228.3" cy="376.3" r="2.8" fill="none" stroke="#F0922E" stroke-width="1.85"/>
<circle cx="228.3" cy="376.3" r="0.55" fill="#F0922E"/>
<circle cx="228.3" cy="385.9" r="2.8" fill="none" stroke="#F0922E" stroke-width="1.85"/>
<circle cx="228.3" cy="385.9" r="0.55" fill="#F0922E"/>
<line x1="220.5" y1="367" x2="236.5" y2="367" stroke="#F0922E" stroke-width="1.1" stroke-linecap="butt"/>
<line x1="228.5" y1="341.5" x2="228.5" y2="367" stroke="#F0922E" stroke-width="0.9900000000000001" stroke-linecap="butt"/>
<line x1="224.5" y1="341.5" x2="232.5" y2="341.5" stroke="#F0922E" stroke-width="0.9900000000000001" stroke-linecap="butt"/>
<line x1="224.5" y1="367" x2="232.5" y2="367" stroke="#F0922E" stroke-width="0.9900000000000001" stroke-linecap="butt"/>
<text font-size="11.55" text-anchor="start" font-weight="bold" fill="#000" transform="translate(257 256.5) scale(0.95 1)">d</text>
<line x1="285.1" y1="259.3" x2="285.1" y2="413.8" stroke="#000" stroke-width="1.8" stroke-linecap="butt"/>
<line x1="284.3" y1="413" x2="564" y2="413" stroke="#000" stroke-width="1.8" stroke-linecap="butt"/>
<line x1="279" y1="412.9" x2="285.1" y2="412.9" stroke="#000" stroke-width="1.7" stroke-linecap="butt"/>
<text font-size="9.35" text-anchor="end" fill="#000" stroke="#000" stroke-width="0.18" transform="translate(277.6 415.8) scale(0.95 1)">0</text>
<line x1="279" y1="361.9" x2="285.1" y2="361.9" stroke="#000" stroke-width="1.7" stroke-linecap="butt"/>
<text font-size="9.35" text-anchor="end" fill="#000" stroke="#000" stroke-width="0.18" transform="translate(277.6 364.8) scale(0.95 1)">5</text>
<line x1="279" y1="310.9" x2="285.1" y2="310.9" stroke="#000" stroke-width="1.7" stroke-linecap="butt"/>
<text font-size="9.35" text-anchor="end" fill="#000" stroke="#000" stroke-width="0.18" transform="translate(277.6 313.8) scale(0.95 1)">10</text>
<line x1="279" y1="259.9" x2="285.1" y2="259.9" stroke="#000" stroke-width="1.7" stroke-linecap="butt"/>
<text font-size="9.35" text-anchor="end" fill="#000" stroke="#000" stroke-width="0.18" transform="translate(277.6 262.8) scale(0.95 1)">15</text>
<line x1="307.3" y1="413" x2="307.3" y2="418.5" stroke="#000" stroke-width="1.7" stroke-linecap="butt"/>
<text font-size="8.72" text-anchor="middle" fill="#000" stroke="#000" stroke-width="0.18" transform="translate(307.3 429.2) scale(0.95 1)">2</text>
<line x1="354" y1="413" x2="354" y2="418.5" stroke="#000" stroke-width="1.7" stroke-linecap="butt"/>
<text font-size="8.72" text-anchor="middle" fill="#000" stroke="#000" stroke-width="0.18" transform="translate(354 429.2) scale(0.95 1)">3</text>
<line x1="400.7" y1="413" x2="400.7" y2="418.5" stroke="#000" stroke-width="1.7" stroke-linecap="butt"/>
<text font-size="8.72" text-anchor="middle" fill="#000" stroke="#000" stroke-width="0.18" transform="translate(400.7 429.2) scale(0.95 1)">4</text>
<line x1="447.4" y1="413" x2="447.4" y2="418.5" stroke="#000" stroke-width="1.7" stroke-linecap="butt"/>
<text font-size="8.72" text-anchor="middle" fill="#000" stroke="#000" stroke-width="0.18" transform="translate(447.4 429.2) scale(0.95 1)">6</text>
<line x1="494" y1="413" x2="494" y2="418.5" stroke="#000" stroke-width="1.7" stroke-linecap="butt"/>
<text font-size="8.72" text-anchor="middle" fill="#000" stroke="#000" stroke-width="0.18" transform="translate(494 429.2) scale(0.95 1)">7</text>
<line x1="540.7" y1="413" x2="540.7" y2="418.5" stroke="#000" stroke-width="1.7" stroke-linecap="butt"/>
<text font-size="8.72" text-anchor="middle" fill="#000" stroke="#000" stroke-width="0.18" transform="translate(540.7 429.2) scale(0.95 1)">9</text>
<text font-size="8.66" text-anchor="middle" fill="#000" stroke="#000" stroke-width="0.18" transform="translate(424.3 436.4) scale(0.95 1)">Days Post Infection</text>
<text font-size="8.93" text-anchor="middle" fill="#000" stroke="#000" stroke-width="0.18" transform="translate(261 338) rotate(-90) scale(0.95 1)">% Parasitemia</text>
<line x1="286.3" y1="413" x2="328.3" y2="413" stroke="#000" stroke-width="1.6" stroke-linecap="butt"/>
<circle cx="288.4" cy="413" r="2.9" fill="#ABABAB"/>
<rect x="290.3" y="409.5" width="7" height="7" fill="#55E51F"/>
<path d="M296.4,413H302M299.2,410.2V415.8" stroke="#8D24A8" stroke-width="1.5" fill="none"/>
<path d="M301.6,410.2L307.6,410.2L304.6,415.8Z" fill="#1E14FF" stroke="#1E14FF" stroke-width="0.6" stroke-linejoin="round"/>
<circle cx="310" cy="413" r="2.5" fill="#F0922E" stroke="#8A4A10" stroke-width="0.7"/>
<circle cx="315.4" cy="413" r="2.5" fill="none" stroke="#555" stroke-width="0.9"/>
<path d="M317.8,410.2L323.8,410.2L320.8,415.8Z" fill="#F0922E" stroke="#F0922E" stroke-width="0.6" stroke-linejoin="round"/>
<circle cx="326.2" cy="413" r="2.7" fill="#000"/>
<line x1="333" y1="413" x2="375" y2="413" stroke="#000" stroke-width="1.6" stroke-linecap="butt"/>
<circle cx="335.1" cy="413" r="2.9" fill="#ABABAB"/>
<rect x="337" y="409.5" width="7" height="7" fill="#55E51F"/>
<path d="M343.1,413H348.7M345.9,410.2V415.8" stroke="#8D24A8" stroke-width="1.5" fill="none"/>
<path d="M348.3,410.2L354.3,410.2L351.3,415.8Z" fill="#1E14FF" stroke="#1E14FF" stroke-width="0.6" stroke-linejoin="round"/>
<circle cx="356.7" cy="413" r="2.5" fill="#F0922E" stroke="#8A4A10" stroke-width="0.7"/>
<circle cx="362.1" cy="413" r="2.5" fill="none" stroke="#555" stroke-width="0.9"/>
<path d="M364.5,410.2L370.5,410.2L367.5,415.8Z" fill="#F0922E" stroke="#F0922E" stroke-width="0.6" stroke-linejoin="round"/>
<circle cx="372.9" cy="413" r="2.7" fill="#000"/>
<line x1="379.7" y1="413" x2="421.7" y2="413" stroke="#000" stroke-width="1.6" stroke-linecap="butt"/>
<circle cx="381.8" cy="413" r="2.9" fill="#ABABAB"/>
<rect x="383.7" y="409.5" width="7" height="7" fill="#55E51F"/>
<path d="M389.8,413H395.4M392.6,410.2V415.8" stroke="#8D24A8" stroke-width="1.5" fill="none"/>
<path d="M395,410.2L401,410.2L398,415.8Z" fill="#1E14FF" stroke="#1E14FF" stroke-width="0.6" stroke-linejoin="round"/>
<circle cx="403.4" cy="413" r="2.5" fill="#F0922E" stroke="#8A4A10" stroke-width="0.7"/>
<circle cx="408.8" cy="413" r="2.5" fill="none" stroke="#555" stroke-width="0.9"/>
<path d="M411.2,410.2L417.2,410.2L414.2,415.8Z" fill="#F0922E" stroke="#F0922E" stroke-width="0.6" stroke-linejoin="round"/>
<circle cx="419.6" cy="413" r="2.7" fill="#000"/>
<circle cx="428.5" cy="413" r="2.9" fill="#ABABAB"/>
<rect x="430.4" y="409.5" width="7" height="7" fill="#55E51F"/>
<path d="M436.5,413H442.1M439.3,410.2V415.8" stroke="#8D24A8" stroke-width="1.5" fill="none"/>
<path d="M436.5,408.5H442.1M439.3,405.7V411.3" stroke="#8D24A8" stroke-width="1.5" fill="none"/>
<path d="M441.7,409.8L447.7,409.8L444.7,415.4Z" fill="#1E14FF" stroke="#1E14FF" stroke-width="0.6" stroke-linejoin="round"/>
<path d="M441.7,405.4L447.7,405.4L444.7,411Z" fill="#1E14FF" stroke="#1E14FF" stroke-width="0.6" stroke-linejoin="round"/>
<path d="M441.7,402.2L447.7,402.2L444.7,407.8Z" fill="#1E14FF" stroke="#1E14FF" stroke-width="0.6" stroke-linejoin="round"/>
<circle cx="450.1" cy="412.6" r="2.5" fill="#F0922E" stroke="#8A4A10" stroke-width="0.7"/>
<circle cx="450.1" cy="408.9" r="2.5" fill="#F0922E" stroke="#8A4A10" stroke-width="0.7"/>
<line x1="455.5" y1="406" x2="455.5" y2="412" stroke="#333" stroke-width="0.8" stroke-linecap="butt"/>
<circle cx="455.5" cy="412.2" r="2.5" fill="none" stroke="#555" stroke-width="0.9"/>
<circle cx="455.5" cy="408.2" r="2.5" fill="none" stroke="#555" stroke-width="0.9"/>
<rect x="458.7" y="396" width="4.4" height="17" fill="url(#redstripe)" stroke="#FF2200" stroke-width="0.9"/>
<path d="M457.9,393.2L463.9,393.2L460.9,398.8Z" fill="#F0922E" stroke="#F0922E" stroke-width="0.6" stroke-linejoin="round"/>
<circle cx="460.9" cy="395.4" r="0.9" fill="#FF3010"/>
<path d="M457.9,396.7L463.9,396.7L460.9,402.3Z" fill="#F0922E" stroke="#F0922E" stroke-width="0.6" stroke-linejoin="round"/>
<circle cx="460.9" cy="398.9" r="0.9" fill="#FF3010"/>
<path d="M457.9,400.2L463.9,400.2L460.9,405.8Z" fill="#F0922E" stroke="#F0922E" stroke-width="0.6" stroke-linejoin="round"/>
<circle cx="460.9" cy="402.4" r="0.9" fill="#FF3010"/>
<path d="M457.9,403.7L463.9,403.7L460.9,409.3Z" fill="#F0922E" stroke="#F0922E" stroke-width="0.6" stroke-linejoin="round"/>
<circle cx="460.9" cy="405.9" r="0.9" fill="#FF3010"/>
<path d="M457.9,407.2L463.9,407.2L460.9,412.8Z" fill="#F0922E" stroke="#F0922E" stroke-width="0.6" stroke-linejoin="round"/>
<circle cx="460.9" cy="409.4" r="0.9" fill="#FF3010"/>
<rect x="464.1" y="398" width="4.4" height="15" fill="url(#blkdot)" stroke="#000" stroke-width="0.8" stroke-dasharray="1.2,0.6"/>
<circle cx="466.3" cy="393.2" r="2.7" fill="#000"/>
<circle cx="466.3" cy="398" r="2.7" fill="#000"/>
<circle cx="466.3" cy="402.3" r="2.7" fill="#000"/>
<circle cx="466.3" cy="406.7" r="2.7" fill="#000"/>
<circle cx="475.1" cy="413" r="2.9" fill="#ABABAB"/>
<rect x="477" y="409.5" width="7" height="7" fill="#55E51F"/>
<path d="M483.1,413H488.7M485.9,410.2V415.8" stroke="#8D24A8" stroke-width="1.5" fill="none"/>
<path d="M483.1,375.6H488.7M485.9,372.8V378.4" stroke="#8D24A8" stroke-width="1.5" fill="none"/>
<rect x="489.3" y="402" width="4" height="11" fill="#1E14FF"/>
<line x1="491.3" y1="380" x2="491.3" y2="402" stroke="#1E14FF" stroke-width="0.8" stroke-linecap="butt"/>
<path d="M488.3,377.8L494.3,377.8L491.3,383.4Z" fill="#1E14FF" stroke="#1E14FF" stroke-width="0.6" stroke-linejoin="round"/>
<path d="M488.3,385.9L494.3,385.9L491.3,391.5Z" fill="#1E14FF" stroke="#1E14FF" stroke-width="0.6" stroke-linejoin="round"/>
<path d="M488.3,399.4L494.3,399.4L491.3,405Z" fill="#1E14FF" stroke="#1E14FF" stroke-width="0.6" stroke-linejoin="round"/>
<path d="M488.3,403.2L494.3,403.2L491.3,408.8Z" fill="#1E14FF" stroke="#1E14FF" stroke-width="0.6" stroke-linejoin="round"/>
<path d="M488.3,408.1L494.3,408.1L491.3,413.7Z" fill="#1E14FF" stroke="#1E14FF" stroke-width="0.6" stroke-linejoin="round"/>
<circle cx="496.7" cy="384.9" r="2.5" fill="#F0922E" stroke="#8A4A10" stroke-width="0.7"/>
<circle cx="496.7" cy="399.3" r="2.5" fill="#F0922E" stroke="#8A4A10" stroke-width="0.7"/>
<circle cx="496.7" cy="403" r="2.5" fill="#F0922E" stroke="#8A4A10" stroke-width="0.7"/>
<circle cx="496.7" cy="406.5" r="2.5" fill="#F0922E" stroke="#8A4A10" stroke-width="0.7"/>
<circle cx="496.7" cy="409.9" r="2.5" fill="#F0922E" stroke="#8A4A10" stroke-width="0.7"/>
<rect x="500.1" y="400.3" width="4" height="12.7" fill="#fff" stroke="#222" stroke-width="0.8"/>
<line x1="502.1" y1="389" x2="502.1" y2="400.3" stroke="#555" stroke-width="0.8" stroke-linecap="butt"/>
<circle cx="502.1" cy="372.7" r="2.5" fill="none" stroke="#555" stroke-width="0.9"/>
<circle cx="502.1" cy="389.1" r="2.5" fill="none" stroke="#555" stroke-width="0.9"/>
<circle cx="502.1" cy="403.2" r="2.5" fill="none" stroke="#555" stroke-width="0.9"/>
<circle cx="502.1" cy="408" r="2.5" fill="none" stroke="#555" stroke-width="0.9"/>
<circle cx="502.1" cy="411" r="2.5" fill="none" stroke="#555" stroke-width="0.9"/>
<rect x="505.2" y="369.5" width="4.6" height="43.5" fill="url(#redstripe)" stroke="#FF2200" stroke-width="0.9"/>
<line x1="507.5" y1="367" x2="507.5" y2="369.5" stroke="#FF2200" stroke-width="0.8" stroke-linecap="butt"/>
<path d="M504.5,342.6L510.5,342.6L507.5,348.2Z" fill="#F0922E" stroke="#F0922E" stroke-width="0.6" stroke-linejoin="round"/>
<circle cx="507.5" cy="344.8" r="0.9" fill="#FF3010"/>
<path d="M504.5,368.6L510.5,368.6L507.5,374.2Z" fill="#F0922E" stroke="#F0922E" stroke-width="0.6" stroke-linejoin="round"/>
<circle cx="507.5" cy="370.8" r="0.9" fill="#FF3010"/>
<path d="M504.5,371.5L510.5,371.5L507.5,377.1Z" fill="#F0922E" stroke="#F0922E" stroke-width="0.6" stroke-linejoin="round"/>
<circle cx="507.5" cy="373.7" r="0.9" fill="#FF3010"/>
<path d="M504.5,384L510.5,384L507.5,389.6Z" fill="#F0922E" stroke="#F0922E" stroke-width="0.6" stroke-linejoin="round"/>
<circle cx="507.5" cy="386.2" r="0.9" fill="#FF3010"/>
<path d="M504.5,395.6L510.5,395.6L507.5,401.2Z" fill="#F0922E" stroke="#F0922E" stroke-width="0.6" stroke-linejoin="round"/>
<circle cx="507.5" cy="397.8" r="0.9" fill="#FF3010"/>
<rect x="510.7" y="377.2" width="4.4" height="35.8" fill="url(#blkdot)" stroke="#000" stroke-width="0.8" stroke-dasharray="1.2,0.6"/>
<line x1="512.9" y1="359.8" x2="512.9" y2="377.2" stroke="#888" stroke-width="0.8" stroke-linecap="butt"/>
<circle cx="512.9" cy="365.6" r="2.7" fill="#000"/>
<circle cx="512.9" cy="374.3" r="2.7" fill="#000"/>
<circle cx="512.9" cy="377.2" r="2.7" fill="#000"/>
<circle cx="512.9" cy="380.6" r="2.7" fill="#000"/>
<circle cx="521.8" cy="413" r="2.9" fill="#ABABAB"/>
<rect x="523.7" y="409.5" width="7" height="7" fill="#55E51F"/>
<path d="M529.8,413H535.4M532.6,410.2V415.8" stroke="#8D24A8" stroke-width="1.5" fill="none"/>
<path d="M529.4,311.7H535M532.2,308.9V314.5" stroke="#8D24A8" stroke-width="1.5" fill="none"/>
<rect x="536.3" y="376.7" width="3.4" height="36.3" fill="url(#bluedot)"/>
<line x1="538" y1="327" x2="538" y2="376.7" stroke="#1E14FF" stroke-width="0.7" stroke-linecap="butt"/>
<path d="M535,293.4L541,293.4L538,299Z" fill="#1E14FF" stroke="#1E14FF" stroke-width="0.6" stroke-linejoin="round"/>
<path d="M535,311.1L541,311.1L538,316.7Z" fill="#1E14FF" stroke="#1E14FF" stroke-width="0.6" stroke-linejoin="round"/>
<path d="M535,333.7L541,333.7L538,339.3Z" fill="#1E14FF" stroke="#1E14FF" stroke-width="0.6" stroke-linejoin="round"/>
<path d="M535,337.7L541,337.7L538,343.3Z" fill="#1E14FF" stroke="#1E14FF" stroke-width="0.6" stroke-linejoin="round"/>
<path d="M535,406.5L541,406.5L538,412.1Z" fill="#1E14FF" stroke="#1E14FF" stroke-width="0.6" stroke-linejoin="round"/>
<line x1="543.4" y1="327" x2="543.4" y2="406.5" stroke="#F5B060" stroke-width="0.7" stroke-linecap="butt"/>
<circle cx="543.4" cy="327.3" r="2.5" fill="#F0922E" stroke="#8A4A10" stroke-width="0.7"/>
<circle cx="543.4" cy="335.4" r="2.5" fill="#F0922E" stroke="#8A4A10" stroke-width="0.7"/>
<circle cx="543.4" cy="345.4" r="2.5" fill="#F0922E" stroke="#8A4A10" stroke-width="0.7"/>
<circle cx="543.4" cy="358.6" r="2.5" fill="#F0922E" stroke="#8A4A10" stroke-width="0.7"/>
<circle cx="543.4" cy="412" r="2.5" fill="#F0922E" stroke="#8A4A10" stroke-width="0.7"/>
<rect x="547" y="368.6" width="3.6" height="44.4" fill="#A8A8A8" stroke="#444" stroke-width="0.8"/>
<line x1="548.8" y1="341.4" x2="548.8" y2="368.6" stroke="#555" stroke-width="0.8" stroke-linecap="butt"/>
<circle cx="548.8" cy="296.7" r="2.5" fill="none" stroke="#555" stroke-width="0.9"/>
<circle cx="548.8" cy="346.8" r="2.5" fill="none" stroke="#555" stroke-width="0.9"/>
<circle cx="548.8" cy="353.7" r="2.5" fill="none" stroke="#555" stroke-width="0.9"/>
<circle cx="548.8" cy="368" r="2.5" fill="none" stroke="#555" stroke-width="0.9"/>
<circle cx="548.8" cy="412" r="2.5" fill="none" stroke="#555" stroke-width="0.9"/>
<rect x="551.9" y="328.4" width="4.6" height="84.6" fill="url(#redstripe)" stroke="#FF2200" stroke-width="0.9"/>
<line x1="554.2" y1="282.6" x2="554.2" y2="328.4" stroke="#FF2200" stroke-width="0.8" stroke-linecap="butt"/>
<path d="M551.2,265.3L557.2,265.3L554.2,270.9Z" fill="#F0922E" stroke="#F0922E" stroke-width="0.6" stroke-linejoin="round"/>
<circle cx="554.2" cy="267.5" r="0.9" fill="#FF3010"/>
<path d="M551.2,272.6L557.2,272.6L554.2,278.2Z" fill="#F0922E" stroke="#F0922E" stroke-width="0.6" stroke-linejoin="round"/>
<circle cx="554.2" cy="274.8" r="0.9" fill="#FF3010"/>
<path d="M551.2,300.1L557.2,300.1L554.2,305.7Z" fill="#F0922E" stroke="#F0922E" stroke-width="0.6" stroke-linejoin="round"/>
<circle cx="554.2" cy="302.3" r="0.9" fill="#FF3010"/>
<path d="M551.2,320.9L557.2,320.9L554.2,326.5Z" fill="#F0922E" stroke="#F0922E" stroke-width="0.6" stroke-linejoin="round"/>
<circle cx="554.2" cy="323.1" r="0.9" fill="#FF3010"/>
<path d="M551.2,325.6L557.2,325.6L554.2,331.2Z" fill="#F0922E" stroke="#F0922E" stroke-width="0.6" stroke-linejoin="round"/>
<circle cx="554.2" cy="327.8" r="0.9" fill="#FF3010"/>
<path d="M551.2,347.7L557.2,347.7L554.2,353.3Z" fill="#F0922E" stroke="#F0922E" stroke-width="0.6" stroke-linejoin="round"/>
<circle cx="554.2" cy="349.9" r="0.9" fill="#FF3010"/>
<path d="M551.2,352.2L557.2,352.2L554.2,357.8Z" fill="#F0922E" stroke="#F0922E" stroke-width="0.6" stroke-linejoin="round"/>
<circle cx="554.2" cy="354.4" r="0.9" fill="#FF3010"/>
<path d="M551.2,356.4L557.2,356.4L554.2,362Z" fill="#F0922E" stroke="#F0922E" stroke-width="0.6" stroke-linejoin="round"/>
<circle cx="554.2" cy="358.6" r="0.9" fill="#FF3010"/>
<path d="M551.2,360.7L557.2,360.7L554.2,366.3Z" fill="#F0922E" stroke="#F0922E" stroke-width="0.6" stroke-linejoin="round"/>
<circle cx="554.2" cy="362.9" r="0.9" fill="#FF3010"/>
<rect x="557.4" y="328.8" width="4.4" height="84.2" fill="url(#blkdot)" stroke="#000" stroke-width="0.8" stroke-dasharray="1.2,0.6"/>
<line x1="559.6" y1="298.9" x2="559.6" y2="328.8" stroke="#999" stroke-width="0.9" stroke-linecap="butt"/>
<circle cx="559.6" cy="269" r="2.7" fill="#000"/>
<circle cx="559.6" cy="298.9" r="2.7" fill="#000"/>
<circle cx="559.6" cy="327.8" r="2.7" fill="#000"/>
<circle cx="559.6" cy="331.5" r="2.7" fill="#000"/>
<circle cx="559.6" cy="336" r="2.7" fill="#000"/>
<circle cx="559.6" cy="340.5" r="2.7" fill="#000"/>
<circle cx="559.6" cy="345" r="2.7" fill="#000"/>
<circle cx="559.6" cy="350.5" r="2.7" fill="#000"/>
<line x1="413.2" y1="406.6" x2="416.2" y2="406.6" stroke="#FF2200" stroke-width="0.8" stroke-linecap="butt"/>
<line x1="418.4" y1="406.6" x2="421.4" y2="406.6" stroke="#000" stroke-width="0.8" stroke-linecap="butt"/>
<line x1="480.2" y1="406.5" x2="483" y2="406.5" stroke="#55E51F" stroke-width="0.8" stroke-linecap="butt"/>
<line x1="485" y1="406.5" x2="487.8" y2="406.5" stroke="#8D24A8" stroke-width="0.8" stroke-linecap="butt"/>
<line x1="526.4" y1="405.1" x2="529.2" y2="405.1" stroke="#55E51F" stroke-width="0.8" stroke-linecap="butt"/>
<line x1="531.8" y1="405.1" x2="534.6" y2="405.1" stroke="#8D24A8" stroke-width="0.8" stroke-linecap="butt"/>
<circle cx="596" cy="281.3" r="2.1" fill="#ABABAB"/>
<text font-size="8.51" text-anchor="start" fill="#000" stroke="#000" stroke-width="0.18" transform="translate(613.3 283.8) scale(0.95 1)">Uninfected</text>
<rect x="593.4" y="294.71" width="5.2" height="5.2" fill="#55E51F"/>
<text font-size="8.51" text-anchor="start" fill="#000" stroke="#000" stroke-width="0.18" transform="translate(613.3 299.81) scale(0.95 1)">317 (Sterilizing)</text>
<path d="M593.55,313.32H598.45M596,310.87V315.77" stroke="#8D24A8" stroke-width="1.3" fill="none"/>
<text font-size="8.51" text-anchor="start" fill="#000" stroke="#000" stroke-width="0.18" transform="translate(613.3 315.82) scale(0.95 1)">J3R3 TM mRNA</text>
<path d="M593.2,326.83L598.8,326.83L596,331.83Z" fill="#1E14FF" stroke="#1E14FF" stroke-width="0.6" stroke-linejoin="round"/>
<text font-size="8.51" text-anchor="start" fill="#000" stroke="#000" stroke-width="0.18" transform="translate(613.3 331.83) scale(0.95 1)">J3R3 60mer mRNA</text>
<circle cx="596" cy="345.34" r="2.2" fill="#F0922E" stroke="#8A4A10" stroke-width="0.6"/>
<text font-size="8.51" text-anchor="start" fill="#000" stroke="#000" stroke-width="0.18" transform="translate(613.3 347.84) scale(0.95 1)">J3R3 GPI mRNA</text>
<circle cx="596" cy="361.35" r="2.2" fill="none" stroke="#000" stroke-width="0.9"/>
<text font-size="8.51" text-anchor="start" fill="#000" stroke="#000" stroke-width="0.18" transform="translate(613.3 363.85) scale(0.95 1)">Monomer CSP</text>
<path d="M593.2,374.86L598.8,374.86L596,379.86Z" fill="#F0922E" stroke="#F0922E" stroke-width="0.6" stroke-linejoin="round"/>
<text font-size="8.51" text-anchor="start" fill="#000" stroke="#000" stroke-width="0.18" transform="translate(613.3 379.86) scale(0.95 1)">J3R3 24mer mRNA</text>
<circle cx="596" cy="393.37" r="2.1" fill="#000"/>
<text font-size="8.51" text-anchor="start" fill="#000" stroke="#000" stroke-width="0.18" transform="translate(613.3 395.87) scale(0.95 1)">Adjuvant Only</text>
<text font-size="11.55" text-anchor="start" font-weight="bold" fill="#000" transform="translate(6.5 500.5) scale(0.95 1)">e</text>
<line x1="53.5" y1="496.7" x2="53.5" y2="639.1" stroke="#000" stroke-width="1.8" stroke-linecap="butt"/>
<line x1="52.7" y1="638.3" x2="303.5" y2="638.3" stroke="#000" stroke-width="1.8" stroke-linecap="butt"/>
<line x1="47" y1="638.3" x2="53.5" y2="638.3" stroke="#000" stroke-width="1.7" stroke-linecap="butt"/>
<text font-size="9.35" text-anchor="end" fill="#000" stroke="#000" stroke-width="0.18" transform="translate(44 641.2) scale(0.95 1)">0</text>
<line x1="49.5" y1="624.2" x2="53.5" y2="624.2" stroke="#000" stroke-width="1.7" stroke-linecap="butt"/>
<line x1="49.5" y1="610.1" x2="53.5" y2="610.1" stroke="#000" stroke-width="1.7" stroke-linecap="butt"/>
<line x1="49.5" y1="596" x2="53.5" y2="596" stroke="#000" stroke-width="1.7" stroke-linecap="butt"/>
<line x1="49.5" y1="581.9" x2="53.5" y2="581.9" stroke="#000" stroke-width="1.7" stroke-linecap="butt"/>
<line x1="47" y1="567.8" x2="53.5" y2="567.8" stroke="#000" stroke-width="1.7" stroke-linecap="butt"/>
<text font-size="9.35" text-anchor="end" fill="#000" stroke="#000" stroke-width="0.18" transform="translate(44 570.7) scale(0.95 1)">50</text>
<line x1="49.5" y1="553.7" x2="53.5" y2="553.7" stroke="#000" stroke-width="1.7" stroke-linecap="butt"/>
<line x1="49.5" y1="539.6" x2="53.5" y2="539.6" stroke="#000" stroke-width="1.7" stroke-linecap="butt"/>
<line x1="49.5" y1="525.5" x2="53.5" y2="525.5" stroke="#000" stroke-width="1.7" stroke-linecap="butt"/>
<line x1="49.5" y1="511.4" x2="53.5" y2="511.4" stroke="#000" stroke-width="1.7" stroke-linecap="butt"/>
<line x1="47" y1="497.3" x2="53.5" y2="497.3" stroke="#000" stroke-width="1.7" stroke-linecap="butt"/>
<text font-size="9.35" text-anchor="end" fill="#000" stroke="#000" stroke-width="0.18" transform="translate(44 500.2) scale(0.95 1)">100</text>
<line x1="53.6" y1="638.3" x2="53.6" y2="644.3" stroke="#000" stroke-width="1.7" stroke-linecap="butt"/>
<text font-size="8.72" text-anchor="middle" fill="#000" stroke="#000" stroke-width="0.18" transform="translate(53.6 655.3) scale(0.95 1)">0</text>
<line x1="70.22" y1="638.3" x2="70.22" y2="642.5" stroke="#000" stroke-width="1.7" stroke-linecap="butt"/>
<line x1="86.84" y1="638.3" x2="86.84" y2="642.5" stroke="#000" stroke-width="1.7" stroke-linecap="butt"/>
<line x1="103.46" y1="638.3" x2="103.46" y2="642.5" stroke="#000" stroke-width="1.7" stroke-linecap="butt"/>
<line x1="120.08" y1="638.3" x2="120.08" y2="642.5" stroke="#000" stroke-width="1.7" stroke-linecap="butt"/>
<line x1="136.7" y1="638.3" x2="136.7" y2="644.3" stroke="#000" stroke-width="1.7" stroke-linecap="butt"/>
<text font-size="8.72" text-anchor="middle" fill="#000" stroke="#000" stroke-width="0.18" transform="translate(136.7 655.3) scale(0.95 1)">5</text>
<line x1="153.32" y1="638.3" x2="153.32" y2="642.5" stroke="#000" stroke-width="1.7" stroke-linecap="butt"/>
<line x1="169.94" y1="638.3" x2="169.94" y2="642.5" stroke="#000" stroke-width="1.7" stroke-linecap="butt"/>
<line x1="186.56" y1="638.3" x2="186.56" y2="642.5" stroke="#000" stroke-width="1.7" stroke-linecap="butt"/>
<line x1="203.18" y1="638.3" x2="203.18" y2="642.5" stroke="#000" stroke-width="1.7" stroke-linecap="butt"/>
<line x1="219.8" y1="638.3" x2="219.8" y2="644.3" stroke="#000" stroke-width="1.7" stroke-linecap="butt"/>
<text font-size="8.72" text-anchor="middle" fill="#000" stroke="#000" stroke-width="0.18" transform="translate(219.8 655.3) scale(0.95 1)">10</text>
<line x1="236.42" y1="638.3" x2="236.42" y2="642.5" stroke="#000" stroke-width="1.7" stroke-linecap="butt"/>
<line x1="253.04" y1="638.3" x2="253.04" y2="642.5" stroke="#000" stroke-width="1.7" stroke-linecap="butt"/>
<line x1="269.66" y1="638.3" x2="269.66" y2="642.5" stroke="#000" stroke-width="1.7" stroke-linecap="butt"/>
<line x1="286.28" y1="638.3" x2="286.28" y2="642.5" stroke="#000" stroke-width="1.7" stroke-linecap="butt"/>
<line x1="302.9" y1="638.3" x2="302.9" y2="644.3" stroke="#000" stroke-width="1.7" stroke-linecap="butt"/>
<text font-size="8.72" text-anchor="middle" fill="#000" stroke="#000" stroke-width="0.18" transform="translate(302.9 655.3) scale(0.95 1)">15</text>
<text font-size="8.93" text-anchor="middle" fill="#000" stroke="#000" stroke-width="0.18" transform="translate(179.3 662) scale(0.95 1)">Days Post Infection</text>
<text font-size="8.93" text-anchor="middle" fill="#000" stroke="#000" stroke-width="0.18" transform="translate(29.6 569) rotate(-90) scale(0.95 1)">Probability of Survival</text>
<polyline points="236.42,497.3 236.42,511.4 286.28,511.4" fill="none" stroke="#8D24A8" stroke-width="1.6"/>
<polyline points="219.8,497.3 219.8,610.1 286.28,610.1" fill="none" stroke="#000" stroke-width="1.6"/>
<polyline points="203.18,497.3 203.18,525.5 219.8,525.5 219.8,567.8 286.28,567.8" fill="none" stroke="#F0922E" stroke-width="1.6"/>
<polyline points="203.18,497.3 203.18,610.1 219.8,610.1 219.8,638.3" fill="none" stroke="#FF2200" stroke-width="1.6"/>
<polyline points="203.18,497.3 203.18,553.7 219.8,553.7 219.8,581.9 286.28,581.9" fill="none" stroke="#1E14FF" stroke-width="1.6"/>
<line x1="203.18" y1="497.3" x2="203.18" y2="638.3" stroke="#000" stroke-width="1.2" stroke-linecap="butt" stroke-dasharray="1.2,1.2"/>
<polyline points="53.6,497.3 286.28,497.3" fill="none" stroke="#55E51F" stroke-width="1.6"/>
<rect x="283.78" y="494.8" width="5" height="5" fill="#55E51F"/>
<path d="M283.78,511.4H288.78M286.28,508.9V513.9" stroke="#8D24A8" stroke-width="1.4" fill="none"/>
<circle cx="286.28" cy="567.8" r="2.5" fill="#F0922E"/>
<path d="M283.78,579.7L288.78,579.7L286.28,584.1Z" fill="#1E14FF" stroke="#1E14FF" stroke-width="0.6" stroke-linejoin="round"/>
<circle cx="286.28" cy="610.1" r="2.2" fill="none" stroke="#000" stroke-width="1.2"/>
<circle cx="286.28" cy="610.1" r="0.6" fill="#000"/>
<line x1="311.2" y1="505.7" x2="330" y2="505.7" stroke="#ABABAB" stroke-width="1.8" stroke-linecap="butt"/>
<circle cx="320.4" cy="505.7" r="2.5" fill="#ABABAB"/>
<text font-size="9.03" text-anchor="start" fill="#000" stroke="#000" stroke-width="0.18" transform="translate(339.2 508.7) scale(0.95 1)">Uninfected</text>
<line x1="311.2" y1="524.04" x2="330" y2="524.04" stroke="#55E51F" stroke-width="1.8" stroke-linecap="butt"/>
<rect x="317.9" y="521.54" width="5" height="5" fill="#55E51F"/>
<text font-size="9.03" text-anchor="start" fill="#000" stroke="#000" stroke-width="0.18" transform="translate(339.2 527.04) scale(0.95 1)">317 (Sterilizing)</text>
<line x1="311.2" y1="542.38" x2="330" y2="542.38" stroke="#8D24A8" stroke-width="1.8" stroke-linecap="butt"/>
<path d="M318,542.38H322.8M320.4,539.98V544.78" stroke="#8D24A8" stroke-width="1.3" fill="none"/>
<text font-size="9.03" text-anchor="start" fill="#000" stroke="#000" stroke-width="0.18" transform="translate(339.2 545.38) scale(0.95 1)">J3R3 TM mRNA</text>
<line x1="311.2" y1="560.72" x2="330" y2="560.72" stroke="#1E14FF" stroke-width="1.8" stroke-linecap="butt"/>
<path d="M317.9,558.52L322.9,558.52L320.4,562.92Z" fill="#1E14FF" stroke="#1E14FF" stroke-width="0.6" stroke-linejoin="round"/>
<text font-size="9.03" text-anchor="start" fill="#000" stroke="#000" stroke-width="0.18" transform="translate(339.2 563.72) scale(0.95 1)">J3R3 60mer mRNA</text>
<line x1="311.2" y1="579.06" x2="330" y2="579.06" stroke="#F0922E" stroke-width="1.8" stroke-linecap="butt"/>
<circle cx="320.4" cy="579.06" r="2.5" fill="#F0922E"/>
<text font-size="9.03" text-anchor="start" fill="#000" stroke="#000" stroke-width="0.18" transform="translate(339.2 582.06) scale(0.95 1)">J3R3 GPI mRNA</text>
<line x1="311.2" y1="597.4" x2="330" y2="597.4" stroke="#000" stroke-width="1.8" stroke-linecap="butt"/>
<circle cx="320.4" cy="597.4" r="2.3" fill="none" stroke="#000" stroke-width="1.1"/>
<circle cx="320.4" cy="597.4" r="0.6" fill="#000"/>
<text font-size="9.03" text-anchor="start" fill="#000" stroke="#000" stroke-width="0.18" transform="translate(339.2 600.4) scale(0.95 1)">Monomer CSP</text>
<line x1="311.2" y1="615.74" x2="330" y2="615.74" stroke="#FF2200" stroke-width="1.8" stroke-linecap="butt"/>
<path d="M317.9,613.54L322.9,613.54L320.4,617.94Z" fill="#FF2200" stroke="#FF2200" stroke-width="0.6" stroke-linejoin="round"/>
<text font-size="9.03" text-anchor="start" fill="#000" stroke="#000" stroke-width="0.18" transform="translate(339.2 618.74) scale(0.95 1)">J3R3 24mer mRNA</text>
<line x1="311.2" y1="634.08" x2="330" y2="634.08" stroke="#000" stroke-width="1.4" stroke-linecap="butt" stroke-dasharray="1,1.5"/>
<circle cx="320.4" cy="634.08" r="2.5" fill="#000"/>
<text font-size="9.03" text-anchor="start" fill="#000" stroke="#000" stroke-width="0.18" transform="translate(339.2 637.08) scale(0.95 1)">Adjuvant Only</text>
<text font-size="11.55" text-anchor="start" font-weight="bold" fill="#000" transform="translate(7.2 664.8) scale(0.95 1)">f</text>
<line x1="54" y1="671.2" x2="54" y2="813.4" stroke="#000" stroke-width="1.8" stroke-linecap="butt"/>
<line x1="53.2" y1="812.6" x2="180.5" y2="812.6" stroke="#000" stroke-width="1.8" stroke-linecap="butt"/>
<line x1="47.3" y1="812.6" x2="54" y2="812.6" stroke="#000" stroke-width="1.7" stroke-linecap="butt"/>
<text font-size="9.35" text-anchor="end" fill="#000" stroke="#000" stroke-width="0.18" transform="translate(44.7 815.5) scale(0.95 1)">0</text>
<line x1="47.3" y1="784.44" x2="54" y2="784.44" stroke="#000" stroke-width="1.7" stroke-linecap="butt"/>
<text font-size="9.35" text-anchor="end" fill="#000" stroke="#000" stroke-width="0.18" transform="translate(44.7 787.34) scale(0.95 1)">100</text>
<line x1="47.3" y1="756.28" x2="54" y2="756.28" stroke="#000" stroke-width="1.7" stroke-linecap="butt"/>
<text font-size="9.35" text-anchor="end" fill="#000" stroke="#000" stroke-width="0.18" transform="translate(44.7 759.18) scale(0.95 1)">200</text>
<line x1="47.3" y1="728.12" x2="54" y2="728.12" stroke="#000" stroke-width="1.7" stroke-linecap="butt"/>
<text font-size="9.35" text-anchor="end" fill="#000" stroke="#000" stroke-width="0.18" transform="translate(44.7 731.02) scale(0.95 1)">300</text>
<line x1="47.3" y1="699.96" x2="54" y2="699.96" stroke="#000" stroke-width="1.7" stroke-linecap="butt"/>
<text font-size="9.35" text-anchor="end" fill="#000" stroke="#000" stroke-width="0.18" transform="translate(44.7 702.86) scale(0.95 1)">400</text>
<line x1="47.3" y1="671.8" x2="54" y2="671.8" stroke="#000" stroke-width="1.7" stroke-linecap="butt"/>
<text font-size="9.35" text-anchor="end" fill="#000" stroke="#000" stroke-width="0.18" transform="translate(44.7 674.7) scale(0.95 1)">500</text>
<line x1="69.8" y1="812.6" x2="69.8" y2="818" stroke="#000" stroke-width="1.7" stroke-linecap="butt"/>
<line x1="93.5" y1="812.6" x2="93.5" y2="818" stroke="#000" stroke-width="1.7" stroke-linecap="butt"/>
<line x1="117.4" y1="812.6" x2="117.4" y2="818" stroke="#000" stroke-width="1.7" stroke-linecap="butt"/>
<line x1="141" y1="812.6" x2="141" y2="818" stroke="#000" stroke-width="1.7" stroke-linecap="butt"/>
<line x1="164.7" y1="812.6" x2="164.7" y2="818" stroke="#000" stroke-width="1.7" stroke-linecap="butt"/>
<text font-size="8.93" text-anchor="middle" fill="#000" stroke="#000" stroke-width="0.18" transform="translate(22.8 744) rotate(-90) scale(0.95 1)">2A10 Equivalence (µg/mL)</text>
<text font-size="9.45" text-anchor="end" fill="#000" stroke="#000" stroke-width="0.18" transform="translate(71 828) rotate(-45) scale(0.95 1)">Adjuvant Only</text>
<text font-size="9.45" text-anchor="end" fill="#000" stroke="#000" stroke-width="0.18" transform="translate(94.7 828) rotate(-45) scale(0.95 1)">Monomer CSP</text>
<text font-size="9.45" text-anchor="end" fill="#000" stroke="#000" stroke-width="0.18" transform="translate(118.6 828) rotate(-45) scale(0.95 1)">RTS,S</text>
<text font-size="9.45" text-anchor="end" fill="#000" stroke="#000" stroke-width="0.18" transform="translate(142.2 828) rotate(-45) scale(0.95 1)">J3R3 60mer mRNA</text>
<text font-size="9.45" text-anchor="end" fill="#000" stroke="#000" stroke-width="0.18" transform="translate(165.9 828) rotate(-45) scale(0.95 1)">J3R3 TM mRNA</text>
<polyline points="112.2,685 112.2,677.3 164.7,677.3 164.7,685" fill="none" stroke="#000" stroke-width="1"/>
<polyline points="112.2,696.2 112.2,688.5 136.2,688.5 136.2,696.2" fill="none" stroke="#000" stroke-width="1"/>
<polygon points="135.1,670.45 135.63,671.72 137,671.83 135.96,672.73 136.28,674.07 135.1,673.35 133.92,674.07 134.24,672.73 133.2,671.83 134.57,671.72" fill="#111" stroke="#111" stroke-width="0.35" stroke-linejoin="round"/>
<polygon points="139.3,670.45 139.83,671.72 141.2,671.83 140.16,672.73 140.48,674.07 139.3,673.35 138.12,674.07 138.44,672.73 137.4,671.83 138.77,671.72" fill="#111" stroke="#111" stroke-width="0.35" stroke-linejoin="round"/>
<text font-size="8.4" text-anchor="middle" fill="#000" stroke="#000" stroke-width="0.18" transform="translate(125.3 686.3) scale(0.95 1)">ns</text>
<circle cx="65.4" cy="812.5" r="3.2" fill="#000"/>
<circle cx="68" cy="812.5" r="3.2" fill="#000"/>
<circle cx="70.5" cy="812.5" r="3.2" fill="#000"/>
<circle cx="73" cy="812.5" r="3.2" fill="#000"/>
<circle cx="74.7" cy="812.5" r="3.2" fill="#000"/>
<circle cx="93.7" cy="704.4" r="3.3" fill="none" stroke="#000" stroke-width="1.4"/>
<circle cx="89" cy="764.9" r="3.3" fill="none" stroke="#000" stroke-width="1.4"/>
<circle cx="98.4" cy="767.7" r="3.3" fill="none" stroke="#000" stroke-width="1.4"/>
<circle cx="89" cy="773.3" r="3.3" fill="none" stroke="#000" stroke-width="1.4"/>
<circle cx="89" cy="781.8" r="3.3" fill="none" stroke="#000" stroke-width="1.4"/>
<circle cx="98.4" cy="783.8" r="3.3" fill="none" stroke="#000" stroke-width="1.4"/>
<circle cx="89" cy="790.2" r="3.3" fill="none" stroke="#000" stroke-width="1.4"/>
<line x1="89.4" y1="756.2" x2="97.9" y2="756.2" stroke="#555" stroke-width="1.0" stroke-linecap="butt"/>
<line x1="93.6" y1="756.2" x2="93.6" y2="773.8" stroke="#555" stroke-width="1.0" stroke-linecap="butt"/>
<line x1="85.5" y1="773.8" x2="101.4" y2="773.8" stroke="#000" stroke-width="1.5" stroke-linecap="butt"/>
<path d="M114,750.1L120.6,750.1L117.3,755.9Z" fill="#B07D40" stroke="#B07D40" stroke-width="0.6" stroke-linejoin="round"/>
<path d="M109,781.9L115.6,781.9L112.3,787.7Z" fill="#B07D40" stroke="#B07D40" stroke-width="0.6" stroke-linejoin="round"/>
<path d="M114,785.6L120.6,785.6L117.3,791.4Z" fill="#B07D40" stroke="#B07D40" stroke-width="0.6" stroke-linejoin="round"/>
<path d="M118.4,786.3L125,786.3L121.7,792.1Z" fill="#B07D40" stroke="#B07D40" stroke-width="0.6" stroke-linejoin="round"/>
<path d="M112,795.8L118.6,795.8L115.3,801.6Z" fill="#B07D40" stroke="#B07D40" stroke-width="0.6" stroke-linejoin="round"/>
<path d="M116.4,795.8L123,795.8L119.7,801.6Z" fill="#B07D40" stroke="#B07D40" stroke-width="0.6" stroke-linejoin="round"/>
<path d="M114,803.2L120.6,803.2L117.3,809Z" fill="#B07D40" stroke="#B07D40" stroke-width="0.6" stroke-linejoin="round"/>
<line x1="113.3" y1="777.3" x2="121.7" y2="777.3" stroke="#B07D40" stroke-width="1.1" stroke-linecap="butt"/>
<line x1="117.4" y1="777.3" x2="117.4" y2="790.2" stroke="#B07D40" stroke-width="1.0" stroke-linecap="butt"/>
<line x1="109.6" y1="790.2" x2="125.2" y2="790.2" stroke="#B07D40" stroke-width="1.5" stroke-linecap="butt"/>
<path d="M137.9,754.25L144.9,754.25L141.4,760.55Z" fill="none" stroke="#1E14FF" stroke-width="1.35" stroke-linejoin="round"/>
<path d="M137.9,767.25L144.9,767.25L141.4,773.55Z" fill="none" stroke="#1E14FF" stroke-width="1.35" stroke-linejoin="round"/>
<path d="M132.9,781.65L139.9,781.65L136.4,787.95Z" fill="none" stroke="#1E14FF" stroke-width="1.35" stroke-linejoin="round"/>
<path d="M142.5,779.15L149.5,779.15L146,785.45Z" fill="none" stroke="#1E14FF" stroke-width="1.35" stroke-linejoin="round"/>
<path d="M132.9,788.55L139.9,788.55L136.4,794.85Z" fill="none" stroke="#1E14FF" stroke-width="1.35" stroke-linejoin="round"/>
<path d="M142.5,792.05L149.5,792.05L146,798.35Z" fill="none" stroke="#1E14FF" stroke-width="1.35" stroke-linejoin="round"/>
<path d="M132.9,796.55L139.9,796.55L136.4,802.85Z" fill="none" stroke="#1E14FF" stroke-width="1.35" stroke-linejoin="round"/>
<line x1="137.1" y1="762.1" x2="145.1" y2="762.1" stroke="#1E14FF" stroke-width="1.1" stroke-linecap="butt"/>
<line x1="141.1" y1="762.1" x2="141.1" y2="786.2" stroke="#1E14FF" stroke-width="1.0" stroke-linecap="butt"/>
<line x1="133.6" y1="786.2" x2="148.5" y2="786.2" stroke="#1E14FF" stroke-width="1.5" stroke-linecap="butt"/>
<path d="M161.5,713.7H168.3M164.9,710.3V717.1" stroke="#8D24A8" stroke-width="1.9" fill="none"/>
<path d="M156.5,728.4H163.3M159.9,725V731.8" stroke="#8D24A8" stroke-width="1.9" fill="none"/>
<path d="M166.3,727.2H173.1M169.7,723.8V730.6" stroke="#8D24A8" stroke-width="1.9" fill="none"/>
<path d="M156.5,737.7H163.3M159.9,734.3V741.1" stroke="#8D24A8" stroke-width="1.9" fill="none"/>
<path d="M166.3,737H173.1M169.7,733.6V740.4" stroke="#8D24A8" stroke-width="1.9" fill="none"/>
<path d="M161.5,747.5H168.3M164.9,744.1V750.9" stroke="#8D24A8" stroke-width="1.9" fill="none"/>
<path d="M161.5,760H168.3M164.9,756.6V763.4" stroke="#8D24A8" stroke-width="1.9" fill="none"/>
<line x1="156.8" y1="737.4" x2="172.6" y2="737.4" stroke="#8D24A8" stroke-width="1.1" stroke-linecap="butt"/>
<line x1="164.7" y1="737.4" x2="164.7" y2="718.5" stroke="#8D24A8" stroke-width="0.9900000000000001" stroke-linecap="butt"/>
<line x1="160.7" y1="718.5" x2="168.7" y2="718.5" stroke="#8D24A8" stroke-width="0.9900000000000001" stroke-linecap="butt"/>
<text font-size="11.55" text-anchor="start" font-weight="bold" fill="#000" transform="translate(233 665.5) scale(0.95 1)">g</text>
<line x1="285" y1="673" x2="285" y2="811" stroke="#000" stroke-width="1.8" stroke-linecap="butt"/>
<line x1="284.2" y1="810.2" x2="476.6" y2="810.2" stroke="#000" stroke-width="1.8" stroke-linecap="butt"/>
<line x1="278.5" y1="810.2" x2="285" y2="810.2" stroke="#000" stroke-width="1.7" stroke-linecap="butt"/>
<text font-size="9.35" text-anchor="end" fill="#000" stroke="#000" stroke-width="0.18" transform="translate(276.5 813.1) scale(0.95 1)">0.001</text>
<line x1="278.5" y1="776.05" x2="285" y2="776.05" stroke="#000" stroke-width="1.7" stroke-linecap="butt"/>
<text font-size="9.35" text-anchor="end" fill="#000" stroke="#000" stroke-width="0.18" transform="translate(276.5 778.95) scale(0.95 1)">0.01</text>
<line x1="278.5" y1="741.9" x2="285" y2="741.9" stroke="#000" stroke-width="1.7" stroke-linecap="butt"/>
<text font-size="9.35" text-anchor="end" fill="#000" stroke="#000" stroke-width="0.18" transform="translate(276.5 744.8) scale(0.95 1)">0.1</text>
<line x1="278.5" y1="707.75" x2="285" y2="707.75" stroke="#000" stroke-width="1.7" stroke-linecap="butt"/>
<text font-size="9.35" text-anchor="end" fill="#000" stroke="#000" stroke-width="0.18" transform="translate(276.5 710.65) scale(0.95 1)">1</text>
<line x1="278.5" y1="673.6" x2="285" y2="673.6" stroke="#000" stroke-width="1.7" stroke-linecap="butt"/>
<text font-size="9.35" text-anchor="end" fill="#000" stroke="#000" stroke-width="0.18" transform="translate(276.5 676.5) scale(0.95 1)">10</text>
<line x1="302.9" y1="810.2" x2="302.9" y2="816" stroke="#000" stroke-width="1.7" stroke-linecap="butt"/>
<line x1="328.8" y1="810.2" x2="328.8" y2="816" stroke="#000" stroke-width="1.7" stroke-linecap="butt"/>
<line x1="354.6" y1="810.2" x2="354.6" y2="816" stroke="#000" stroke-width="1.7" stroke-linecap="butt"/>
<line x1="380.5" y1="810.2" x2="380.5" y2="816" stroke="#000" stroke-width="1.7" stroke-linecap="butt"/>
<line x1="406.5" y1="810.2" x2="406.5" y2="816" stroke="#000" stroke-width="1.7" stroke-linecap="butt"/>
<line x1="432.6" y1="810.2" x2="432.6" y2="816" stroke="#000" stroke-width="1.7" stroke-linecap="butt"/>
<line x1="458.3" y1="810.2" x2="458.3" y2="816" stroke="#000" stroke-width="1.7" stroke-linecap="butt"/>
<text font-size="8.82" text-anchor="middle" fill="#000" stroke="#000" stroke-width="0.18" transform="translate(249.2 743.8) rotate(-90) scale(0.95 1)">Flux [p/s] normalizedto Adjuvant Only</text>
<text font-size="9.45" text-anchor="end" fill="#000" stroke="#000" stroke-width="0.18" transform="translate(303.9 825.2) rotate(-45) scale(0.95 1)">Adjuvant Only</text>
<text font-size="9.45" text-anchor="end" fill="#000" stroke="#000" stroke-width="0.18" transform="translate(329.8 825.2) rotate(-45) scale(0.95 1)">Monomer CSP</text>
<text font-size="9.45" text-anchor="end" fill="#000" stroke="#000" stroke-width="0.18" transform="translate(355.6 825.2) rotate(-45) scale(0.95 1)">RTS,S</text>
<text font-size="9.45" text-anchor="end" fill="#000" stroke="#000" stroke-width="0.18" transform="translate(381.5 825.2) rotate(-45) scale(0.95 1)">J3R3 60mer mRNA</text>
<text font-size="9.45" text-anchor="end" fill="#000" stroke="#000" stroke-width="0.18" transform="translate(407.5 825.2) rotate(-45) scale(0.95 1)">J3R3 TM mRNA</text>
<text font-size="9.45" text-anchor="end" fill="#000" stroke="#000" stroke-width="0.18" transform="translate(433.6 825.2) rotate(-45) scale(0.95 1)">317 (sterilizing)</text>
<text font-size="9.45" text-anchor="end" fill="#000" stroke="#000" stroke-width="0.18" transform="translate(459.3 825.2) rotate(-45) scale(0.95 1)">Noninfected</text>
<text font-size="9.03" text-anchor="middle" fill="#000" stroke="#000" stroke-width="0.18" transform="translate(330.4 695.8) scale(0.95 1)">87%</text>
<text font-size="9.03" text-anchor="middle" fill="#000" stroke="#000" stroke-width="0.18" transform="translate(355.4 695.8) scale(0.95 1)">79%</text>
<text font-size="9.03" text-anchor="middle" fill="#000" stroke="#000" stroke-width="0.18" transform="translate(382.6 695.8) scale(0.95 1)">87%</text>
<text font-size="9.03" text-anchor="middle" fill="#000" stroke="#000" stroke-width="0.18" transform="translate(410.1 695.8) scale(0.95 1)">92%</text>
<circle cx="298.8" cy="704.6" r="3.2" fill="#000"/>
<circle cx="302.6" cy="701.8" r="3.2" fill="#000"/>
<circle cx="306.5" cy="702.3" r="3.2" fill="#000"/>
<circle cx="297" cy="715.3" r="3.2" fill="#000"/>
<circle cx="300.6" cy="712.5" r="3.2" fill="#000"/>
<circle cx="304.4" cy="714.3" r="3.2" fill="#000"/>
<circle cx="308.8" cy="713.3" r="3.2" fill="#000"/>
<circle cx="328.4" cy="722.3" r="3" fill="none" stroke="#000" stroke-width="1.3"/>
<circle cx="326.3" cy="732.7" r="3" fill="none" stroke="#000" stroke-width="1.3"/>
<circle cx="330.4" cy="732.7" r="3" fill="none" stroke="#000" stroke-width="1.3"/>
<circle cx="322.7" cy="738.9" r="3" fill="none" stroke="#000" stroke-width="1.3"/>
<circle cx="328.8" cy="738.9" r="3" fill="none" stroke="#000" stroke-width="1.3"/>
<circle cx="334.5" cy="738.9" r="3" fill="none" stroke="#000" stroke-width="1.3"/>
<circle cx="330.4" cy="744.4" r="3" fill="none" stroke="#000" stroke-width="1.3"/>
<circle cx="326.8" cy="749.1" r="3" fill="none" stroke="#000" stroke-width="1.3"/>
<line x1="319.2" y1="738.9" x2="337.6" y2="738.9" stroke="#000" stroke-width="1.1" stroke-linecap="butt"/>
<path d="M351.4,713.6L357.8,713.6L354.6,719.2Z" fill="#B07D40" stroke="#B07D40" stroke-width="0.6" stroke-linejoin="round"/>
<path d="M345.6,722.6L352,722.6L348.8,728.2Z" fill="#B07D40" stroke="#B07D40" stroke-width="0.6" stroke-linejoin="round"/>
<path d="M356.9,723.2L363.3,723.2L360.1,728.8Z" fill="#B07D40" stroke="#B07D40" stroke-width="0.6" stroke-linejoin="round"/>
<path d="M351.4,728.3L357.8,728.3L354.6,733.9Z" fill="#B07D40" stroke="#B07D40" stroke-width="0.6" stroke-linejoin="round"/>
<path d="M348.7,738.1L355.1,738.1L351.9,743.7Z" fill="#B07D40" stroke="#B07D40" stroke-width="0.6" stroke-linejoin="round"/>
<path d="M354.2,740.1L360.6,740.1L357.4,745.7Z" fill="#B07D40" stroke="#B07D40" stroke-width="0.6" stroke-linejoin="round"/>
<path d="M351.4,766.5L357.8,766.5L354.6,772.1Z" fill="#B07D40" stroke="#B07D40" stroke-width="0.6" stroke-linejoin="round"/>
<line x1="345.8" y1="731.1" x2="363.5" y2="731.1" stroke="#B07D40" stroke-width="1.1" stroke-linecap="butt"/>
<path d="M377.1,710.25L383.9,710.25L380.5,716.35Z" fill="none" stroke="#1E14FF" stroke-width="1.35" stroke-linejoin="round"/>
<path d="M377.1,722.95L383.9,722.95L380.5,729.05Z" fill="none" stroke="#1E14FF" stroke-width="1.35" stroke-linejoin="round"/>
<path d="M377.1,729.65L383.9,729.65L380.5,735.75Z" fill="none" stroke="#1E14FF" stroke-width="1.35" stroke-linejoin="round"/>
<path d="M371.6,735.15L378.4,735.15L375,741.25Z" fill="none" stroke="#1E14FF" stroke-width="1.35" stroke-linejoin="round"/>
<path d="M377.1,736.85L383.9,736.85L380.5,742.95Z" fill="none" stroke="#1E14FF" stroke-width="1.35" stroke-linejoin="round"/>
<path d="M382.6,735.15L389.4,735.15L386,741.25Z" fill="none" stroke="#1E14FF" stroke-width="1.35" stroke-linejoin="round"/>
<path d="M377.1,752.95L383.9,752.95L380.5,759.05Z" fill="none" stroke="#1E14FF" stroke-width="1.35" stroke-linejoin="round"/>
<line x1="372" y1="735.2" x2="389" y2="735.2" stroke="#1E14FF" stroke-width="1.1" stroke-linecap="butt"/>
<path d="M405.1,739.5H411.5M408.3,736.3V742.7" stroke="#8D24A8" stroke-width="1.6" fill="none"/>
<path d="M401.8,743H408.2M405,739.8V746.2" stroke="#8D24A8" stroke-width="1.6" fill="none"/>
<path d="M408.8,744.5H415.2M412,741.3V747.7" stroke="#8D24A8" stroke-width="1.6" fill="none"/>
<path d="M405.1,746H411.5M408.3,742.8V749.2" stroke="#8D24A8" stroke-width="1.6" fill="none"/>
<path d="M403.2,753H409.6M406.4,749.8V756.2" stroke="#8D24A8" stroke-width="1.6" fill="none"/>
<path d="M405.1,761H411.5M408.3,757.8V764.2" stroke="#8D24A8" stroke-width="1.6" fill="none"/>
<path d="M401.6,763.8H408M404.8,760.6V767" stroke="#8D24A8" stroke-width="1.6" fill="none"/>
<line x1="397.9" y1="745.9" x2="415" y2="745.9" stroke="#8D24A8" stroke-width="1.6" stroke-linecap="butt"/>
<rect x="424" y="774" width="7" height="7" fill="#55E51F"/>
<rect x="427.5" y="768.5" width="7" height="7" fill="#55E51F"/>
<rect x="432" y="768.5" width="7" height="7" fill="#55E51F"/>
<rect x="434.5" y="775" width="7" height="7" fill="#55E51F"/>
<rect x="429.5" y="769.5" width="7" height="7" fill="#55E51F"/>
<circle cx="452.6" cy="775" r="3" fill="#ABABAB"/>
<circle cx="456.5" cy="770.6" r="3" fill="#ABABAB"/>
<circle cx="460" cy="775.6" r="3" fill="#ABABAB"/>
<circle cx="464" cy="774.1" r="3" fill="#ABABAB"/>
</g>
</svg></body></html>
